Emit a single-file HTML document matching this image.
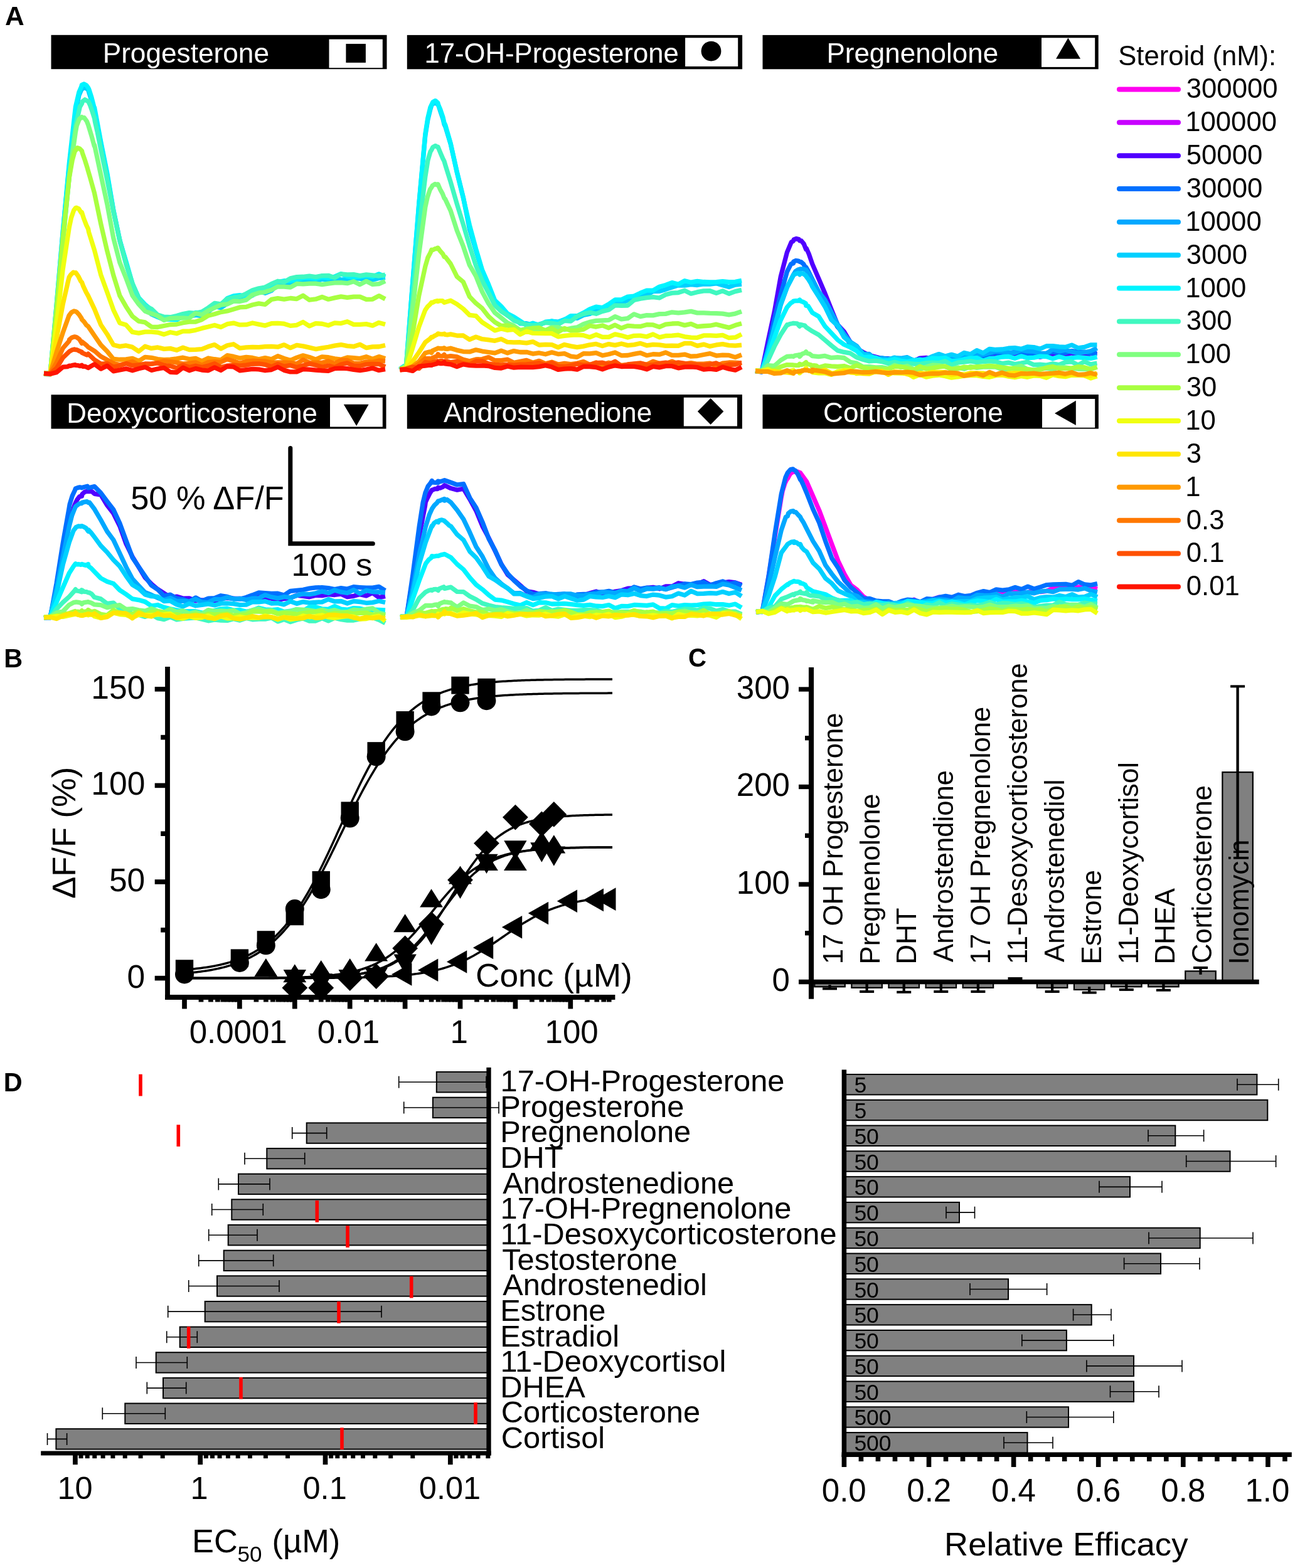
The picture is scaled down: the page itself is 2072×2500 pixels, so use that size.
<!DOCTYPE html><html><head><meta charset="utf-8"><style>html,body{margin:0;padding:0;background:#fff;}svg{display:block;}text{font-family:"Liberation Sans", Arial, sans-serif;}</style></head><body>
<svg width="2072" height="2500" viewBox="0 0 2072 2500">
<rect width="2072" height="2500" fill="#fff"/>
<polyline points="70,596.27 80.07,596.74 90.15,486.16 100.22,369.29 110.3,265.08 120.37,179.18 125.94,151.76 129.94,142.54 130.44,142.4 133.94,139.01 137.94,141.21 140.52,143.03 141.94,147.81 145.94,160.17 149.94,175.52 150.59,181.38 153.94,194.01 160.67,227.98 170.74,278.94 180.81,335.71 190.89,382.69 200.96,419.7 211.04,452.87 221.11,475.54 231.19,488.18 241.26,501.01 251.33,505.4 261.41,509.41 271.48,509.12 281.56,507.7 291.63,505 301.7,504.35 311.78,502.35 321.85,503.54 331.93,497.22 342,488.48 352.07,490.57 362.15,483.98 372.22,479.82 382.3,479.13 392.37,475.83 402.44,471.07 412.52,464.33 422.59,467.36 432.67,463.41 442.74,453.36 452.81,455.28 462.89,453.71 472.96,449.83 483.04,446.27 493.11,446.79 503.19,449.21 513.26,444.92 523.33,447.22 533.41,444.08 543.48,445.94 553.56,445.86 563.63,444.12 573.7,444.2 583.78,446.71 593.85,446.2 603.93,443.45 614,442.5" fill="none" stroke="#00d0ff" stroke-width="7.3" stroke-linejoin="round" stroke-linecap="butt"/>
<polyline points="70,594.98 80.07,596.01 90.15,486.89 100.22,370.01 110.3,260.26 120.37,170.67 125.94,146.95 129.94,137.6 130.44,135.37 133.94,134.01 137.94,136.21 140.52,139.92 141.94,142.85 145.94,155.31 149.94,170.79 150.59,171.6 153.94,189.42 160.67,225.6 170.74,275.51 180.81,335.08 190.89,383.42 200.96,417.16 211.04,452.12 221.11,474.84 231.19,485.48 241.26,493.71 251.33,505.35 261.41,506.28 271.48,509.29 281.56,509.97 291.63,504.33 301.7,505.89 311.78,498.33 321.85,498.86 331.93,492.18 342,489.18 352.07,486.5 362.15,475.64 372.22,471.93 382.3,470.56 392.37,472.47 402.44,464.25 412.52,461.15 422.59,458.36 432.67,455.67 442.74,449.63 452.81,447.73 462.89,447.76 472.96,445.38 483.04,443.32 493.11,442.76 503.19,444.1 513.26,441.98 523.33,443.18 533.41,440.98 543.48,436.62 553.56,440.63 563.63,442.14 573.7,441.22 583.78,439.6 593.85,441.14 603.93,436.8 614,441.15" fill="none" stroke="#00f4ff" stroke-width="7.3" stroke-linejoin="round" stroke-linecap="butt"/>
<polyline points="70,594.97 80.07,595.22 90.15,495.51 100.22,384.71 110.3,281.95 120.37,201.31 127.34,170.48 130.44,165.24 131.34,161.9 135.34,158.83 139.34,161.03 140.52,161.15 143.34,167.16 147.34,178.62 150.59,188.85 151.34,193.71 155.34,211.29 160.67,238.14 170.74,286.14 180.81,337.34 190.89,384.17 200.96,421.62 211.04,451.86 221.11,475.58 231.19,487.67 241.26,492.48 251.33,502.06 261.41,505.2 271.48,505.7 281.56,503.45 291.63,500.58 301.7,498.63 311.78,499.34 321.85,497.09 331.93,490.71 342,483.35 352.07,484.75 362.15,476.66 372.22,474.68 382.3,472.73 392.37,468.23 402.44,462.74 412.52,459.73 422.59,458.01 432.67,452.59 442.74,448.27 452.81,449.74 462.89,443.88 472.96,441.64 483.04,441.26 493.11,440.07 503.19,441.56 513.26,439.61 523.33,439.29 533.41,442.94 543.48,436.82 553.56,437.94 563.63,437.57 573.7,439.59 583.78,437.85 593.85,438.99 603.93,440.02 614,438.09" fill="none" stroke="#40f8c0" stroke-width="7.3" stroke-linejoin="round" stroke-linecap="butt"/>
<polyline points="70,595.67 80.07,596.37 90.15,495.56 100.22,385.09 110.3,282.45 120.37,210.77 122.36,200.18 126.36,189.91 130.36,186.58 130.44,187.45 134.36,187.76 138.36,193.36 140.52,198.93 142.36,204.83 146.36,218.24 150.36,233.13 150.59,231.19 160.67,278.54 170.74,325.16 180.81,379.51 190.89,418.58 200.96,443.76 211.04,471.01 221.11,485.02 231.19,496.06 241.26,500.02 251.33,503.65 261.41,510.53 271.48,507.56 281.56,507.13 291.63,507.12 301.7,506.99 311.78,499.42 321.85,501.96 331.93,495.36 342,490.77 352.07,486.15 362.15,484.99 372.22,480.15 382.3,480.57 392.37,478.17 402.44,470.18 412.52,466.93 422.59,465.52 432.67,462.06 442.74,456.82 452.81,457.07 462.89,458 472.96,452.47 483.04,452.95 493.11,452.04 503.19,452.03 513.26,453.67 523.33,452.11 533.41,450.85 543.48,450.53 553.56,451.69 563.63,448.69 573.7,453.64 583.78,448.33 593.85,453.36 603.93,452.6 614,448.27" fill="none" stroke="#80ff80" stroke-width="7.3" stroke-linejoin="round" stroke-linecap="butt"/>
<polyline points="70,595.98 80.07,596.51 90.15,492.17 100.22,379.04 110.3,283.35 115.26,255.38 119.26,240.77 120.37,239.95 123.26,235.62 127.26,237.22 130.44,240.45 131.26,243.69 135.26,255.11 139.26,267.9 140.52,272.39 143.26,281.69 150.59,308.13 160.67,356.46 170.74,399.95 180.81,438.84 190.89,471.4 200.96,488.92 211.04,504.25 221.11,512.2 231.19,513.91 241.26,521.04 251.33,521.51 261.41,519.52 271.48,517.48 281.56,517.06 291.63,514.77 301.7,513.11 311.78,513 321.85,509.44 331.93,503.24 342,500.82 352.07,497.62 362.15,495.9 372.22,492.93 382.3,489.9 392.37,489.38 402.44,486 412.52,483.83 422.59,485.49 432.67,477.41 442.74,475.67 452.81,477.02 462.89,475.5 472.96,476.52 483.04,471.27 493.11,478.23 503.19,476.99 513.26,473.45 523.33,477.21 533.41,474.83 543.48,472.82 553.56,474.37 563.63,473.18 573.7,473.05 583.78,477.38 593.85,477.05 603.93,471.61 614,476.83" fill="none" stroke="#a8ff40" stroke-width="7.3" stroke-linejoin="round" stroke-linecap="butt"/>
<polyline points="70,595.13 80.07,595.3 90.15,517.9 100.22,429.12 110.3,362.5 113.6,347.06 117.6,335.43 120.37,331.61 121.6,331.13 125.6,332.93 129.6,339.19 130.44,338.7 133.6,348.53 137.6,358.92 140.52,364.89 141.6,370.24 150.59,399.15 160.67,437.91 170.74,465.82 180.81,494.05 190.89,515.01 200.96,518.05 211.04,529.47 221.11,531.16 231.19,529.1 241.26,529.12 251.33,530.02 261.41,533.15 271.48,529.75 281.56,531.79 291.63,528.13 301.7,528.04 311.78,526.29 321.85,523.41 331.93,521.05 342,518.42 352.07,521.57 362.15,516.69 372.22,515.04 382.3,517.9 392.37,517.72 402.44,515.02 412.52,517.09 422.59,519.07 432.67,515.68 442.74,515.38 452.81,516.16 462.89,519.36 472.96,518.27 483.04,513.46 493.11,519.83 503.19,515.55 513.26,516.26 523.33,518.77 533.41,514.87 543.48,515.58 553.56,512.7 563.63,517.36 573.7,517.38 583.78,516.63 593.85,519.11 603.93,514.42 614,517.34" fill="none" stroke="#f0ff10" stroke-width="7.3" stroke-linejoin="round" stroke-linecap="butt"/>
<polyline points="70,594.96 80.07,596.77 90.15,539.63 100.22,485.03 108.92,446.93 110.3,441.76 112.92,437.93 116.92,434.2 120.37,435.38 120.92,434.98 124.92,440.55 128.92,448.62 130.44,449.95 132.92,456.67 136.92,465.15 140.52,471.63 150.59,492.89 160.67,517.72 170.74,532.71 180.81,549.98 190.89,552.42 200.96,550.92 211.04,553.4 221.11,560.26 231.19,552.26 241.26,555.45 251.33,553.97 261.41,556.33 271.48,555.61 281.56,558.3 291.63,554.14 301.7,557.61 311.78,557.38 321.85,556.54 331.93,552.58 342,549.56 352.07,556.04 362.15,550.75 372.22,548.72 382.3,555.06 392.37,553.94 402.44,553.41 412.52,553.61 422.59,552.6 432.67,552.35 442.74,553.2 452.81,549.82 462.89,554.7 472.96,550.48 483.04,551.88 493.11,554.16 503.19,556.54 513.26,554.81 523.33,553.25 533.41,551.14 543.48,549.54 553.56,551.64 563.63,552.41 573.7,549.22 583.78,554.61 593.85,552.9 603.93,552.74 614,550.49" fill="none" stroke="#ffe600" stroke-width="7.3" stroke-linejoin="round" stroke-linecap="butt"/>
<polyline points="70,595.38 80.07,595.71 90.15,561.47 100.22,530.3 109.95,503.32 110.3,502.73 113.95,497.98 117.95,495.97 120.37,496.53 121.95,497.25 125.95,501.54 129.95,507.52 130.44,509.37 133.95,512.82 137.95,518.6 140.52,520.37 150.59,535.24 160.67,549.93 170.74,560.08 180.81,572.47 190.89,573.27 200.96,572.96 211.04,571.44 221.11,575.71 231.19,569.28 241.26,570.26 251.33,572.61 261.41,573.71 271.48,573.24 281.56,571.95 291.63,570.19 301.7,572.57 311.78,571.43 321.85,575.84 331.93,571.01 342,572.74 352.07,574.02 362.15,566.66 372.22,568.46 382.3,571.07 392.37,569.44 402.44,570.49 412.52,572.71 422.59,570.55 432.67,572.79 442.74,567.66 452.81,571.48 462.89,574.49 472.96,570.12 483.04,566.78 493.11,569.45 503.19,573.08 513.26,568.86 523.33,569.74 533.41,571.94 543.48,573.17 553.56,569.98 563.63,570.74 573.7,571.62 583.78,568.75 593.85,572.34 603.93,568.57 614,571.82" fill="none" stroke="#ff9a00" stroke-width="7.3" stroke-linejoin="round" stroke-linecap="butt"/>
<polyline points="70,595.58 80.07,595.81 90.15,578.22 100.22,555.08 110.3,543.61 110.49,541.52 114.49,538.23 118.49,536.89 120.37,537.08 122.49,537.96 126.49,540.92 130.44,547.43 130.49,544.75 134.49,547.79 138.49,551.09 140.52,553.38 150.59,559.56 160.67,568.2 170.74,573.71 180.81,579.32 190.89,581.74 200.96,579.25 211.04,576.4 221.11,582.04 231.19,580.63 241.26,580.33 251.33,578.2 261.41,575.55 271.48,576.66 281.56,578.15 291.63,580.16 301.7,579.05 311.78,577.86 321.85,582.29 331.93,577.63 342,576.64 352.07,577.3 362.15,572.66 372.22,575.64 382.3,579.14 392.37,576.2 402.44,575.26 412.52,575.74 422.59,576.09 432.67,578.19 442.74,577.84 452.81,577.96 462.89,578.32 472.96,580.03 483.04,573.63 493.11,578.35 503.19,578.09 513.26,578.36 523.33,575.91 533.41,579.61 543.48,574.22 553.56,574.46 563.63,579.2 573.7,579.48 583.78,576.79 593.85,577.34 603.93,575.01 614,575.81" fill="none" stroke="#ff7800" stroke-width="7.3" stroke-linejoin="round" stroke-linecap="butt"/>
<polyline points="70,595.36 80.07,596.04 90.15,587.03 100.22,570.38 110.3,560.66 110.49,560.46 114.49,558.04 118.49,556.89 120.37,557.62 122.49,557.6 126.49,559.73 130.44,561.16 130.49,562.36 134.49,564.07 138.49,565.94 140.52,564.12 150.59,573.7 160.67,580.04 170.74,579.55 180.81,585.19 190.89,583.01 200.96,579.59 211.04,582.91 221.11,581.91 231.19,580.02 241.26,580.13 251.33,578.92 261.41,582.34 271.48,583.59 281.56,586.78 291.63,582.05 301.7,585.56 311.78,583.21 321.85,585.48 331.93,583.14 342,579.73 352.07,585.43 362.15,583.06 372.22,582.03 382.3,583.22 392.37,582.09 402.44,580.25 412.52,579.99 422.59,581.29 432.67,584.81 442.74,580.34 452.81,584.09 462.89,582.43 472.96,585.65 483.04,582.82 493.11,579.95 503.19,582.1 513.26,585.21 523.33,583.05 533.41,585.84 543.48,581.03 553.56,578.9 563.63,583.13 573.7,583.46 583.78,580.81 593.85,580.38 603.93,580.53 614,584.95" fill="none" stroke="#ff5000" stroke-width="7.3" stroke-linejoin="round" stroke-linecap="butt"/>
<polyline points="70,595.4 80.07,596.22 90.15,593.65 100.22,585.21 107.83,584.57 110.3,583.21 111.83,583.45 115.83,582.4 119.83,581.68 120.37,582.34 123.83,582.58 127.83,583.71 130.44,582.2 131.83,584.28 135.83,584.18 140.52,586.5 150.59,580.63 160.67,588.16 170.74,583.12 180.81,591.84 190.89,590.03 200.96,587.83 211.04,590.75 221.11,587.69 231.19,585.34 241.26,590.34 251.33,588.03 261.41,586.4 271.48,593.24 281.56,593.83 291.63,586.1 301.7,590.8 311.78,587.62 321.85,590.04 331.93,590.84 342,585.81 352.07,590.45 362.15,584.25 372.22,584.92 382.3,590.81 392.37,589.57 402.44,588.38 412.52,588.83 422.59,590.73 432.67,589.52 442.74,585.12 452.81,590.37 462.89,592.92 472.96,592.76 483.04,588.72 493.11,589.09 503.19,590.02 513.26,590.89 523.33,591.27 533.41,587.64 543.48,587.05 553.56,587.64 563.63,589.42 573.7,590.65 583.78,589.19 593.85,587.03 603.93,590.47 614,588.75" fill="none" stroke="#ff1400" stroke-width="7.3" stroke-linejoin="round" stroke-linecap="butt"/>
<polyline points="637.5,588.69 647.58,581.15 657.67,452.27 667.75,326.45 677.83,215.93 681.91,190.58 685.91,174.07 687.92,167.47 689.91,165.68 693.91,163.6 697.91,166.99 698,165.5 701.91,177.66 705.91,189.41 708.08,198.28 709.91,202.31 718.17,229.46 728.25,273.73 738.33,314.54 748.42,364.86 758.5,399.02 768.58,432.14 778.67,458.06 788.75,479.93 798.83,493.56 808.92,503.01 819,506.33 829.08,515.83 839.17,515.69 849.25,518 859.33,517.06 869.42,514.24 879.5,512.02 889.58,513.1 899.67,509.38 909.75,505.76 919.83,507.44 929.92,502.39 940,500.45 950.08,495.69 960.17,491.97 970.25,489.98 980.33,481.27 990.42,483.15 1000.5,478.59 1010.58,472.74 1020.67,469.91 1030.75,470.27 1040.83,464.51 1050.92,464.45 1061,461.42 1071.08,457.96 1081.17,454.81 1091.25,455.18 1101.33,453.69 1111.42,454.49 1121.5,452.93 1131.58,453.11 1141.67,451.85 1151.75,454.83 1161.83,457.56 1171.92,454 1182,453.01" fill="none" stroke="#00d0ff" stroke-width="7.3" stroke-linejoin="round" stroke-linecap="butt"/>
<polyline points="637.5,588.42 647.58,581.13 657.67,451.07 667.75,325.08 677.83,213.8 681.91,187.74 685.91,171.12 687.92,167.09 689.91,162.68 693.91,160.6 697.91,164.04 698,165.93 701.91,174.8 705.91,186.65 708.08,195.96 709.91,199.65 718.17,228.52 728.25,274.83 738.33,315.74 748.42,359.18 758.5,396.44 768.58,430.53 778.67,453.55 788.75,478.99 798.83,488.34 808.92,500.1 819,505.17 829.08,511.88 839.17,518.58 849.25,515.14 859.33,518.68 869.42,513.16 879.5,512.12 889.58,514.17 899.67,509.8 909.75,503.66 919.83,503.75 929.92,498.85 940,492.82 950.08,489.06 960.17,490.61 970.25,485.05 980.33,477.87 990.42,477.84 1000.5,473.07 1010.58,472.11 1020.67,467.16 1030.75,463.05 1040.83,463.07 1050.92,457.28 1061,454.42 1071.08,450.63 1081.17,453.29 1091.25,447.71 1101.33,450.22 1111.42,448.45 1121.5,449.52 1131.58,450.01 1141.67,449.62 1151.75,448.65 1161.83,449.75 1171.92,449.28 1182,447.27" fill="none" stroke="#00f4ff" stroke-width="7.3" stroke-linejoin="round" stroke-linecap="butt"/>
<polyline points="637.5,589.96 647.58,581.22 657.67,475.75 667.75,366.25 677.83,281.6 681.91,255.84 685.91,241.92 687.92,238.78 689.91,234.63 693.91,232.49 697.91,234.91 698,234.13 701.91,243.54 705.91,253.04 708.08,257.16 709.91,263.49 718.17,290.02 728.25,324.98 738.33,357.75 748.42,392.08 758.5,423.41 768.58,447.82 778.67,466.98 788.75,486.94 798.83,496.42 808.92,502.84 819,510.97 829.08,514.77 839.17,517.44 849.25,519.17 859.33,517.65 869.42,514.31 879.5,515.42 889.58,517.16 899.67,511.43 909.75,512.08 919.83,504.4 929.92,500.64 940,498.22 950.08,500.3 960.17,496.42 970.25,493.95 980.33,486.85 990.42,487.26 1000.5,486.98 1010.58,478.53 1020.67,476.16 1030.75,474.7 1040.83,473.58 1050.92,475 1061,469.83 1071.08,467.13 1081.17,466.57 1091.25,463.21 1101.33,468.19 1111.42,465.71 1121.5,463.94 1131.58,463.77 1141.67,467.36 1151.75,463.83 1161.83,468.27 1171.92,464.67 1182,462.35" fill="none" stroke="#40f8c0" stroke-width="7.3" stroke-linejoin="round" stroke-linecap="butt"/>
<polyline points="637.5,588.88 647.58,583.13 657.67,493.26 667.75,405.01 677.83,330.22 681.42,314.07 685.42,302.15 687.92,298.62 689.42,295.81 693.42,293.5 697.42,294.95 698,293.71 701.42,301.64 705.42,309.02 708.08,316.06 709.42,317.13 718.17,335.86 728.25,367.41 738.33,392.72 748.42,422.75 758.5,440.24 768.58,465.28 778.67,484.04 788.75,498.65 798.83,506.66 808.92,514.91 819,519.4 829.08,526.44 839.17,523.98 849.25,524.27 859.33,526.27 869.42,526.77 879.5,521.83 889.58,521.97 899.67,525.6 909.75,523.47 919.83,521.95 929.92,516.78 940,513.41 950.08,511.44 960.17,511.01 970.25,510.43 980.33,504.7 990.42,508.85 1000.5,507.61 1010.58,500.83 1020.67,504.6 1030.75,502.71 1040.83,502.9 1050.92,500.68 1061,500.39 1071.08,497.81 1081.17,498.81 1091.25,497.9 1101.33,496.38 1111.42,498.91 1121.5,498.82 1131.58,499.34 1141.67,499.62 1151.75,500.16 1161.83,501.8 1171.92,500.06 1182,496.61" fill="none" stroke="#80ff80" stroke-width="7.3" stroke-linejoin="round" stroke-linecap="butt"/>
<polyline points="637.5,589.17 647.58,585.67 657.67,531.97 667.75,471.2 677.83,424.68 681.91,410.73 685.91,403.07 687.92,398.26 689.91,398.49 693.91,396.35 697.91,396.63 698,395.23 701.91,400.58 705.91,404.93 708.08,409.55 709.91,409.75 718.17,420.51 728.25,440.97 738.33,449.46 748.42,472.94 758.5,483.43 768.58,491.64 778.67,504.45 788.75,513.63 798.83,519.47 808.92,518.79 819,522.58 829.08,527.2 839.17,525.34 849.25,523.1 859.33,522.66 869.42,526.97 879.5,523.86 889.58,529.47 899.67,523.34 909.75,527.11 919.83,526.94 929.92,525.14 940,519.25 950.08,521.05 960.17,518.96 970.25,522.79 980.33,518.16 990.42,523.22 1000.5,519.32 1010.58,520.2 1020.67,520.45 1030.75,517.7 1040.83,517.95 1050.92,521.42 1061,517.15 1071.08,516.01 1081.17,515.72 1091.25,518.63 1101.33,516.4 1111.42,520.67 1121.5,519.76 1131.58,519.22 1141.67,517.18 1151.75,519.87 1161.83,522.34 1171.92,518.57 1182,515.69" fill="none" stroke="#a8ff40" stroke-width="7.3" stroke-linejoin="round" stroke-linecap="butt"/>
<polyline points="637.5,588.55 647.58,586.9 657.67,554.97 667.75,521.01 677.25,495.52 677.83,494.33 681.25,489.22 685.25,485.34 687.92,482.19 689.25,482.57 693.25,480.51 697.25,479.57 698,480.57 701.25,479.53 705.25,479.54 708.08,482.24 718.17,479.14 728.25,484.85 738.33,492.38 748.42,502.41 758.5,503.67 768.58,513.93 778.67,520.42 788.75,526.89 798.83,523.97 808.92,526.49 819,525.43 829.08,533.24 839.17,528.17 849.25,531.17 859.33,531.44 869.42,531.61 879.5,531.7 889.58,536.85 899.67,535.42 909.75,534.33 919.83,533.97 929.92,534.62 940,537.69 950.08,533.53 960.17,537.36 970.25,537.35 980.33,532.9 990.42,535.11 1000.5,538 1010.58,535.3 1020.67,535.08 1030.75,536.77 1040.83,533.02 1050.92,537.83 1061,535.51 1071.08,535.06 1081.17,534.16 1091.25,536.78 1101.33,538.19 1111.42,538.32 1121.5,534.96 1131.58,534.79 1141.67,535.32 1151.75,534.4 1161.83,538.73 1171.92,537.92 1182,532.92" fill="none" stroke="#f0ff10" stroke-width="7.3" stroke-linejoin="round" stroke-linecap="butt"/>
<polyline points="637.5,589.45 647.58,588.22 657.67,576.33 667.75,561.77 677.83,545.77 685.06,540.35 687.92,537.38 689.06,537.77 693.06,535.18 697.06,533.22 698,531.91 701.06,532.58 705.06,532.93 708.08,532.19 709.06,533.36 713.06,533.9 718.17,532.94 728.25,535.04 738.33,534.98 748.42,541.28 758.5,537.17 768.58,540.68 778.67,541.91 788.75,543.29 798.83,540.46 808.92,545.41 819,545.97 829.08,545.77 839.17,546.89 849.25,544.81 859.33,550 869.42,549.41 879.5,549.66 889.58,553.94 899.67,549.44 909.75,551.86 919.83,553.53 929.92,552.17 940,549.77 950.08,548.41 960.17,551.63 970.25,548.56 980.33,550.34 990.42,547.96 1000.5,550.61 1010.58,549.56 1020.67,547.36 1030.75,550.77 1040.83,549.41 1050.92,549.82 1061,551.36 1071.08,551.05 1081.17,551.46 1091.25,547.38 1101.33,547.4 1111.42,551.31 1121.5,549.11 1131.58,552.13 1141.67,549.99 1151.75,548.69 1161.83,550.54 1171.92,551.08 1182,550.11" fill="none" stroke="#ffe600" stroke-width="7.3" stroke-linejoin="round" stroke-linecap="butt"/>
<polyline points="637.5,589.86 647.58,588.39 657.67,584.15 667.75,576.41 677.83,562.68 685.06,560.91 687.92,562.41 689.06,559.36 693.06,557.48 697.06,555.96 698,555.23 701.06,555.55 705.06,555.76 708.08,554.86 709.06,556.04 713.06,556.41 718.17,555.26 728.25,558.33 738.33,560.55 748.42,560.9 758.5,557.81 768.58,560.03 778.67,561.49 788.75,562.91 798.83,559.1 808.92,562.83 819,559.59 829.08,561.52 839.17,561.28 849.25,564.01 859.33,562.72 869.42,564.74 879.5,561.79 889.58,564.58 899.67,563.62 909.75,568.08 919.83,569.43 929.92,563.71 940,563.85 950.08,562.65 960.17,566.74 970.25,564.74 980.33,561.93 990.42,566.8 1000.5,566.49 1010.58,564.36 1020.67,562.56 1030.75,566.72 1040.83,564.74 1050.92,565.2 1061,561.97 1071.08,566.43 1081.17,566.3 1091.25,565.05 1101.33,568.22 1111.42,567.53 1121.5,565.5 1131.58,563.6 1141.67,567.05 1151.75,566.04 1161.83,566.46 1171.92,569.61 1182,565.73" fill="none" stroke="#ff9a00" stroke-width="7.3" stroke-linejoin="round" stroke-linecap="butt"/>
<polyline points="637.5,588.52 647.58,588.57 657.67,586.63 667.75,580.2 677.83,571.59 685.06,571.57 687.92,572.9 689.06,570.57 693.06,569.07 697.06,567.79 698,564.66 701.06,567.56 705.06,567.79 708.08,565.42 709.06,568.1 713.06,568.5 718.17,567.54 728.25,568.9 738.33,573.39 748.42,575.72 758.5,573 768.58,572.56 778.67,569.57 788.75,574.75 798.83,574.53 808.92,573.13 819,578.25 829.08,576.43 839.17,574.44 849.25,578.23 859.33,575.34 869.42,579.83 879.5,577.27 889.58,581 899.67,579.41 909.75,580.68 919.83,579.36 929.92,576.61 940,581.62 950.08,577.98 960.17,581.55 970.25,578.18 980.33,580.92 990.42,582.28 1000.5,581.42 1010.58,580.26 1020.67,579.12 1030.75,581.27 1040.83,576.14 1050.92,579.46 1061,579.94 1071.08,576.06 1081.17,580.66 1091.25,580.23 1101.33,578.71 1111.42,580.24 1121.5,580.13 1131.58,579.22 1141.67,583.38 1151.75,579.24 1161.83,578 1171.92,578.22 1182,579.01" fill="none" stroke="#ff7800" stroke-width="7.3" stroke-linejoin="round" stroke-linecap="butt"/>
<polyline points="637.5,589.95 647.58,587.7 657.67,585.15 667.75,587.55 677.83,577.51 685.06,578.68 687.92,579.35 689.06,578.05 693.06,576.8 697.06,575.69 698,578.32 701.06,575.54 705.06,575.68 708.08,578.41 709.06,575.88 713.06,576.18 718.17,577.93 728.25,576.19 738.33,579.63 748.42,581.43 758.5,575.87 768.58,575.89 778.67,579.97 788.75,581.39 798.83,581.9 808.92,581.41 819,582.25 829.08,581.18 839.17,580.89 849.25,579.83 859.33,578.64 869.42,582.19 879.5,578.33 889.58,584.03 899.67,584.52 909.75,582.94 919.83,580.21 929.92,582.37 940,581.43 950.08,578.68 960.17,578.17 970.25,581.12 980.33,576.3 990.42,583.47 1000.5,580.92 1010.58,579.78 1020.67,579.1 1030.75,581.86 1040.83,581.91 1050.92,579.45 1061,578.22 1071.08,579.35 1081.17,577.9 1091.25,579.48 1101.33,580.51 1111.42,581.65 1121.5,582.47 1131.58,581.07 1141.67,578.94 1151.75,583.9 1161.83,580.98 1171.92,581.25 1182,578.11" fill="none" stroke="#ff5000" stroke-width="7.3" stroke-linejoin="round" stroke-linecap="butt"/>
<polyline points="637.5,589.89 647.58,589.21 657.67,591.45 667.75,584.18 677.83,583.02 685.06,582.23 687.92,582.32 689.06,581.79 693.06,580.66 697.06,579.64 698,577.85 701.06,579.54 705.06,579.71 708.08,577.39 709.06,579.95 713.06,580.27 718.17,580.9 728.25,584.52 738.33,580.8 748.42,582.64 758.5,583.2 768.58,582.89 778.67,583.53 788.75,586.45 798.83,587.03 808.92,583.99 819,586.2 829.08,585.26 839.17,585.51 849.25,585.6 859.33,584.54 869.42,582.62 879.5,585.04 889.58,589.46 899.67,588.21 909.75,587.65 919.83,589.18 929.92,584.5 940,584.5 950.08,585.52 960.17,588.77 970.25,585.1 980.33,582.79 990.42,584.51 1000.5,584.12 1010.58,584.33 1020.67,586.08 1030.75,588.81 1040.83,584.39 1050.92,585.82 1061,583.71 1071.08,583.68 1081.17,586.79 1091.25,585.2 1101.33,584.8 1111.42,585.69 1121.5,589.13 1131.58,588.14 1141.67,589.38 1151.75,585.35 1161.83,588.11 1171.92,590.17 1182,585.25" fill="none" stroke="#ff1400" stroke-width="7.3" stroke-linejoin="round" stroke-linecap="butt"/>
<polyline points="1204,591.83 1214.08,592.79 1224.17,543.53 1234.25,497.07 1244.33,440.96 1254.42,402.33 1261.24,386.13 1264.5,384.07 1265.24,381.92 1269.24,380.47 1273.24,381.61 1274.58,383.93 1277.24,384.02 1281.24,388.93 1284.67,397.55 1285.24,395.86 1289.24,404.88 1294.75,420.89 1304.83,444.23 1314.92,467.74 1325,493.11 1335.08,517.78 1345.17,528.49 1355.25,545.29 1365.33,555.64 1375.42,561.42 1385.5,566.56 1395.58,569.12 1405.67,571.78 1415.75,571.76 1425.83,574.53 1435.92,575.82 1446,570.99 1456.08,576.23 1466.17,571.03 1476.25,570.46 1486.33,571.51 1496.42,571.5 1506.5,572.51 1516.58,574.15 1526.67,572.45 1536.75,568.8 1546.83,569.87 1556.92,571.07 1567,566.27 1577.08,565.54 1587.17,563.79 1597.25,564.69 1607.33,566.09 1617.42,566.37 1627.5,568.05 1637.58,562.72 1647.67,565.87 1657.75,569.21 1667.83,567.07 1677.92,564.62 1688,563.29 1698.08,566.05 1708.17,562.68 1718.25,566.05 1728.33,566.39 1738.42,563.63 1748.5,564.52" fill="none" stroke="#5000ff" stroke-width="7.3" stroke-linejoin="round" stroke-linecap="butt"/>
<polyline points="1204,591.23 1214.08,592.94 1224.17,554.75 1234.25,508.39 1244.33,469.33 1254.42,433.24 1260.69,420.77 1264.5,419.93 1264.69,417.07 1268.69,415.51 1272.69,416.07 1274.58,417.33 1276.69,417.63 1280.69,421.1 1284.67,427.94 1284.69,425.98 1288.69,433.09 1294.75,445.32 1304.83,465.6 1314.92,481.41 1325,503.76 1335.08,521.42 1345.17,532.58 1355.25,549.02 1365.33,556.08 1375.42,562.43 1385.5,569.4 1395.58,571.13 1405.67,571.06 1415.75,571.91 1425.83,573.29 1435.92,571.99 1446,573.68 1456.08,575.05 1466.17,572.35 1476.25,575.96 1486.33,568.44 1496.42,568.25 1506.5,572.83 1516.58,569.68 1526.67,569.81 1536.75,570.34 1546.83,567.62 1556.92,567.91 1567,567.99 1577.08,564.55 1587.17,562.13 1597.25,567.5 1607.33,563.53 1617.42,561.13 1627.5,563.04 1637.58,565.08 1647.67,564.8 1657.75,564.07 1667.83,563.4 1677.92,560.76 1688,563.55 1698.08,562.37 1708.17,559.5 1718.25,560.97 1728.33,561.06 1738.42,563.39 1748.5,563.04" fill="none" stroke="#0070ff" stroke-width="7.3" stroke-linejoin="round" stroke-linecap="butt"/>
<polyline points="1204,591.9 1214.08,591.64 1224.17,557.71 1234.25,525.48 1244.33,485.92 1254.42,457.92 1264.5,438.16 1267.87,432.65 1271.87,430.01 1274.58,429.22 1275.87,428.86 1279.87,428.82 1283.87,430.12 1284.67,430.33 1287.87,434.98 1291.87,441.28 1294.75,448.78 1295.87,447.65 1304.83,464.92 1314.92,478.18 1325,497.7 1335.08,517.21 1345.17,532.41 1355.25,545.1 1365.33,551.47 1375.42,564.61 1385.5,564.51 1395.58,573.36 1405.67,570.88 1415.75,573.55 1425.83,570.68 1435.92,571.25 1446,569.73 1456.08,574.88 1466.17,574.19 1476.25,574.73 1486.33,572.31 1496.42,568.64 1506.5,571.76 1516.58,568.17 1526.67,571.03 1536.75,566.83 1546.83,568.85 1556.92,565.32 1567,565.47 1577.08,562.57 1587.17,559.82 1597.25,560.62 1607.33,562.57 1617.42,562.5 1627.5,558.14 1637.58,559.84 1647.67,560.38 1657.75,563.1 1667.83,563.51 1677.92,557 1688,560.1 1698.08,557.89 1708.17,560.81 1718.25,562.84 1728.33,561.74 1738.42,559.77 1748.5,554.99" fill="none" stroke="#00a8ff" stroke-width="7.3" stroke-linejoin="round" stroke-linecap="butt"/>
<polyline points="1204,591.72 1214.08,592.54 1224.17,561.67 1234.25,521.94 1244.33,484.63 1254.42,457.92 1264.26,439.63 1264.5,438.61 1268.26,436.48 1272.26,435.39 1274.58,437.87 1276.26,435.44 1280.26,436.42 1284.26,439.23 1284.67,440.26 1288.26,445.13 1292.26,451.43 1294.75,457.05 1304.83,472.75 1314.92,488.99 1325,509.9 1335.08,519.34 1345.17,537.5 1355.25,546.3 1365.33,552.92 1375.42,564.72 1385.5,567.26 1395.58,572.02 1405.67,573.58 1415.75,573.32 1425.83,570.1 1435.92,572.61 1446,570.48 1456.08,574.46 1466.17,574.79 1476.25,572.56 1486.33,568.14 1496.42,564.56 1506.5,568.04 1516.58,565.35 1526.67,568.19 1536.75,562.5 1546.83,564.84 1556.92,558.6 1567,562.77 1577.08,556.44 1587.17,557.52 1597.25,557.01 1607.33,555.24 1617.42,554.7 1627.5,556.42 1637.58,552.99 1647.67,553.64 1657.75,556.29 1667.83,551.73 1677.92,551.62 1688,552.94 1698.08,553.37 1708.17,550.13 1718.25,554.78 1728.33,553.43 1738.42,549.83 1748.5,549.78" fill="none" stroke="#00d0ff" stroke-width="7.3" stroke-linejoin="round" stroke-linecap="butt"/>
<polyline points="1204,590.75 1214.08,591.51 1224.17,566.9 1234.25,538.22 1244.33,510.29 1254.42,489.8 1260.18,483.3 1264.18,480.91 1264.5,480.09 1268.18,479.59 1272.18,479.6 1274.58,478.1 1276.18,480.09 1280.18,481.54 1284.18,483.69 1284.67,487.12 1288.18,488.11 1294.75,498.7 1304.83,504.49 1314.92,520.25 1325,530.93 1335.08,541.84 1345.17,549.23 1355.25,553.76 1365.33,559.52 1375.42,569.68 1385.5,569.07 1395.58,570.06 1405.67,575.3 1415.75,575.33 1425.83,572.66 1435.92,575.36 1446,576.59 1456.08,574.67 1466.17,573.61 1476.25,574.76 1486.33,571.04 1496.42,571.57 1506.5,570.59 1516.58,575.72 1526.67,575.22 1536.75,572.67 1546.83,571.06 1556.92,570.6 1567,575.12 1577.08,571.67 1587.17,570.8 1597.25,568.99 1607.33,568.48 1617.42,571.32 1627.5,567.84 1637.58,570.66 1647.67,570.07 1657.75,568.2 1667.83,568.54 1677.92,571.86 1688,568.77 1698.08,571.31 1708.17,570.68 1718.25,569.58 1728.33,570.49 1738.42,571.44 1748.5,569.11" fill="none" stroke="#00f4ff" stroke-width="7.3" stroke-linejoin="round" stroke-linecap="butt"/>
<polyline points="1204,591.54 1214.08,591.9 1224.17,574.48 1234.25,552.39 1244.33,533.55 1254.42,517.96 1254.78,518.63 1258.78,516.5 1262.78,515.71 1264.5,515.31 1266.78,515.56 1270.78,515.99 1274.58,520.33 1274.78,517.37 1278.78,518.18 1282.78,519.16 1284.67,521.41 1294.75,528.18 1304.83,533.75 1314.92,542.27 1325,550.88 1335.08,558.89 1345.17,561.47 1355.25,563.2 1365.33,569.76 1375.42,573.28 1385.5,575.98 1395.58,575.14 1405.67,576.58 1415.75,579.49 1425.83,577.39 1435.92,580 1446,579.05 1456.08,580.09 1466.17,580.53 1476.25,578.68 1486.33,578.06 1496.42,578.63 1506.5,575.89 1516.58,581.97 1526.67,578.11 1536.75,577.1 1546.83,575.84 1556.92,577.56 1567,576.58 1577.08,575.86 1587.17,576.68 1597.25,579.51 1607.33,578.15 1617.42,580.49 1627.5,579.04 1637.58,577.04 1647.67,581.55 1657.75,581.09 1667.83,582.12 1677.92,579.79 1688,581.63 1698.08,577.5 1708.17,576.78 1718.25,582.02 1728.33,576.63 1738.42,580.82 1748.5,579.21" fill="none" stroke="#40f8c0" stroke-width="7.3" stroke-linejoin="round" stroke-linecap="butt"/>
<polyline points="1204,591.52 1214.08,591.8 1224.17,582.74 1234.25,583.36 1244.33,574.35 1254.42,568.46 1262.4,568.01 1264.5,568.5 1266.4,567.18 1270.4,566.37 1274.4,565.68 1274.58,568.56 1278.4,564.25 1282.4,563.06 1284.67,560.75 1286.4,563.23 1290.4,564.25 1294.75,567.7 1304.83,568.55 1314.92,567.46 1325,570.46 1335.08,569.51 1345.17,570.5 1355.25,577.35 1365.33,579.15 1375.42,584.78 1385.5,584.56 1395.58,585.81 1405.67,585.64 1415.75,587.61 1425.83,582.26 1435.92,585.62 1446,583.45 1456.08,588.59 1466.17,588.97 1476.25,584.9 1486.33,581.98 1496.42,582.64 1506.5,584.48 1516.58,588.36 1526.67,585.84 1536.75,588.33 1546.83,584.4 1556.92,586.39 1567,585.08 1577.08,585.21 1587.17,585.19 1597.25,588.71 1607.33,589.03 1617.42,585.99 1627.5,583.5 1637.58,588.74 1647.67,589.97 1657.75,587.74 1667.83,587.23 1677.92,588.97 1688,585.36 1698.08,585.8 1708.17,587.28 1718.25,588.24 1728.33,588.62 1738.42,588.25 1748.5,584.82" fill="none" stroke="#80ff80" stroke-width="7.3" stroke-linejoin="round" stroke-linecap="butt"/>
<polyline points="1204,590.57 1214.08,591.48 1224.17,588.02 1234.25,590.49 1244.33,584.67 1254.42,581.6 1264.5,582.02 1273.09,582.66 1274.58,580.28 1277.09,581.61 1281.09,580.43 1284.67,577.61 1285.09,579.9 1289.09,580.96 1293.09,582.08 1294.75,585.4 1297.09,582.65 1301.09,583.04 1304.83,585.95 1314.92,582.97 1325,583.97 1335.08,584.49 1345.17,583.51 1355.25,586.79 1365.33,582.73 1375.42,586.05 1385.5,587.85 1395.58,587.25 1405.67,589.06 1415.75,588.38 1425.83,584.55 1435.92,584.52 1446,587.13 1456.08,589.97 1466.17,584.23 1476.25,588.05 1486.33,586.89 1496.42,585.22 1506.5,583.98 1516.58,588.56 1526.67,587.77 1536.75,585 1546.83,586.44 1556.92,584.56 1567,584.21 1577.08,583.35 1587.17,584.11 1597.25,585.91 1607.33,587.22 1617.42,587.89 1627.5,588.86 1637.58,588.97 1647.67,590.26 1657.75,589.64 1667.83,586.16 1677.92,584.44 1688,587.58 1698.08,587.54 1708.17,587.16 1718.25,584.75 1728.33,585.66 1738.42,588.81 1748.5,585.36" fill="none" stroke="#a8ff40" stroke-width="7.3" stroke-linejoin="round" stroke-linecap="butt"/>
<polyline points="1204,590.69 1214.08,591.66 1224.17,589.15 1234.25,595.49 1244.33,592.5 1254.42,592.77 1264.5,590.2 1266.52,592.54 1270.52,592.44 1274.52,592.2 1274.58,594.85 1278.52,591.12 1282.52,590.03 1284.67,586.8 1286.52,590.26 1290.52,591.28 1294.52,592.18 1294.75,593.58 1304.83,594.77 1314.92,594.72 1325,597.37 1335.08,592.33 1345.17,590.23 1355.25,590.11 1365.33,595.69 1375.42,593.91 1385.5,594.03 1395.58,593.15 1405.67,593.09 1415.75,593.47 1425.83,594.9 1435.92,595.12 1446,595.28 1456.08,601.38 1466.17,597.26 1476.25,601.14 1486.33,599.09 1496.42,598.02 1506.5,599.69 1516.58,602.17 1526.67,600.83 1536.75,599.2 1546.83,598.57 1556.92,598.71 1567,600.37 1577.08,601.26 1587.17,598.67 1597.25,597.95 1607.33,600.2 1617.42,601.75 1627.5,599.76 1637.58,601.33 1647.67,598.84 1657.75,599.27 1667.83,602.29 1677.92,597.67 1688,599.65 1698.08,600.57 1708.17,598.27 1718.25,598.41 1728.33,598.54 1738.42,602.99 1748.5,599.88" fill="none" stroke="#f0ff10" stroke-width="7.3" stroke-linejoin="round" stroke-linecap="butt"/>
<polyline points="1204,591.58 1214.08,592.41 1224.17,592.23 1234.25,591.76 1244.33,593.43 1254.42,593.79 1264.5,595.05 1266.52,592.54 1270.52,592.44 1274.52,592.2 1274.58,592.21 1278.52,591.12 1282.52,590.03 1284.67,589.47 1286.52,590.26 1290.52,591.28 1294.52,592.18 1294.75,591.05 1304.83,592.64 1314.92,589.86 1325,595.01 1335.08,595.13 1345.17,591.75 1355.25,593.76 1365.33,594.53 1375.42,595.55 1385.5,595.98 1395.58,592.38 1405.67,591.61 1415.75,597.44 1425.83,592.64 1435.92,593.41 1446,596.64 1456.08,597.99 1466.17,594.54 1476.25,595.61 1486.33,593.43 1496.42,593.46 1506.5,593.41 1516.58,597.77 1526.67,596.16 1536.75,597.2 1546.83,594.71 1556.92,594.91 1567,595.16 1577.08,597.57 1587.17,597.59 1597.25,597.89 1607.33,595.08 1617.42,594.77 1627.5,594.81 1637.58,596.01 1647.67,595.64 1657.75,597.55 1667.83,596.54 1677.92,595.54 1688,598.76 1698.08,598.01 1708.17,596.95 1718.25,597.34 1728.33,598.73 1738.42,598.99 1748.5,594.6" fill="none" stroke="#ffe600" stroke-width="7.3" stroke-linejoin="round" stroke-linecap="butt"/>
<polyline points="1204,591.5 1214.08,592.33 1224.17,592.39 1234.25,595.48 1244.33,594.82 1254.42,590.64 1264.5,595.29 1266.52,592.54 1270.52,592.44 1274.52,592.2 1274.58,592.26 1278.52,591.12 1282.52,590.03 1284.67,590.46 1286.52,590.26 1290.52,591.28 1294.52,592.18 1294.75,589.56 1304.83,591.18 1314.92,592.8 1325,596.31 1335.08,595.38 1345.17,594.61 1355.25,591.98 1365.33,592.5 1375.42,593.63 1385.5,593.38 1395.58,592.47 1405.67,593.98 1415.75,594.64 1425.83,593.75 1435.92,593.81 1446,593.08 1456.08,594.21 1466.17,597.88 1476.25,596.31 1486.33,595.57 1496.42,595.76 1506.5,594.1 1516.58,594.34 1526.67,595.04 1536.75,599.28 1546.83,597.34 1556.92,595.68 1567,598.62 1577.08,593.38 1587.17,597.3 1597.25,594.08 1607.33,597.78 1617.42,598.76 1627.5,595.61 1637.58,595.89 1647.67,595.08 1657.75,596.55 1667.83,595.72 1677.92,595.16 1688,594.25 1698.08,596.06 1708.17,593.74 1718.25,597.34 1728.33,596.94 1738.42,594.65 1748.5,597.41" fill="none" stroke="#ff9a00" stroke-width="7.3" stroke-linejoin="round" stroke-linecap="butt"/>
<polyline points="70,984.83 80.07,984.39 90.15,939.93 100.22,889.46 110.3,835.22 118.9,805.24 120.37,801.91 122.9,796.76 126.9,791.54 130.44,791.1 130.9,788.02 134.9,784.36 138.9,783.31 140.52,783.62 142.9,783.43 146.9,783.97 150.59,787.29 160.67,788.92 170.74,805.54 180.81,818.62 190.89,838.83 200.96,867.02 211.04,887.7 221.11,904.22 231.19,920.96 241.26,930.94 251.33,939.46 261.41,945.82 271.48,952.45 281.56,951.11 291.63,954.08 301.7,953.8 311.78,957.88 321.85,956.99 331.93,957.82 342,958.96 352.07,953.56 362.15,953.41 372.22,954.36 382.3,954.4 392.37,954.58 402.44,955.63 412.52,951.69 422.59,952.91 432.67,954.19 442.74,956.31 452.81,954.67 462.89,953.11 472.96,949.02 483.04,950.42 493.11,951.81 503.19,949.19 513.26,949.66 523.33,947.59 533.41,948.49 543.48,947.1 553.56,951.61 563.63,950.26 573.7,947.57 583.78,949.84 593.85,945.23 603.93,952.66 614,950.69" fill="none" stroke="#5000ff" stroke-width="7.3" stroke-linejoin="round" stroke-linecap="butt"/>
<polyline points="70,984.44 80.07,984.8 90.15,929.61 100.22,865.97 110.3,809.02 111.25,803.47 115.25,790.49 119.25,781.99 120.37,778.86 123.25,777.86 127.25,776.78 130.44,777.78 131.25,777.22 135.25,776.22 139.25,775.22 140.52,777.99 150.59,775.63 160.67,785.92 170.74,799.37 180.81,812.43 190.89,834.17 200.96,861.8 211.04,888.85 221.11,903.72 231.19,918.6 241.26,933.25 251.33,939.82 261.41,950.34 271.48,948.19 281.56,954.07 291.63,955.37 301.7,959.16 311.78,952.84 321.85,958.2 331.93,954.18 342,953.71 352.07,949.73 362.15,951.41 372.22,954.5 382.3,955.18 392.37,952.48 402.44,948.78 412.52,944.81 422.59,945.58 432.67,946.36 442.74,946.16 452.81,949.07 462.89,942.29 472.96,941.3 483.04,940.33 493.11,938.18 503.19,936.96 513.26,936.65 523.33,937.54 533.41,939.56 543.48,937.7 553.56,939.06 563.63,935.69 573.7,936.57 583.78,937.24 593.85,937.03 603.93,935.48 614,941.54" fill="none" stroke="#0070ff" stroke-width="7.3" stroke-linejoin="round" stroke-linecap="butt"/>
<polyline points="70,985.07 80.07,983.2 90.15,938.52 100.22,888.17 110.3,839.01 114.65,821.84 118.65,811.74 120.37,807.8 122.65,805.83 126.65,802.81 130.44,802.52 130.65,801.37 134.65,800.37 138.65,799.66 140.52,801.36 142.65,801.2 150.59,811.81 160.67,828.98 170.74,847.25 180.81,860.83 190.89,882.19 200.96,903.88 211.04,922.92 221.11,933.87 231.19,944.5 241.26,948.5 251.33,953.21 261.41,956.67 271.48,953.4 281.56,958.31 291.63,958.19 301.7,959.19 311.78,955.39 321.85,960.2 331.93,960.58 342,955.45 352.07,955.67 362.15,952.45 372.22,955.07 382.3,954.35 392.37,956.39 402.44,954.06 412.52,953.53 422.59,948.79 432.67,951.91 442.74,953.89 452.81,951.71 462.89,952.96 472.96,949.49 483.04,946.82 493.11,947.65 503.19,945.79 513.26,942.95 523.33,945.58 533.41,940.9 543.48,943.91 553.56,945.51 563.63,940.55 573.7,946.41 583.78,941.38 593.85,943.56 603.93,944.01 614,944.82" fill="none" stroke="#00a8ff" stroke-width="7.3" stroke-linejoin="round" stroke-linecap="butt"/>
<polyline points="70,985 80.07,983.81 90.15,946.62 100.22,900.36 110.3,864.45 117.1,846.01 120.37,841.76 121.1,840.52 125.1,838.84 129.1,839.31 130.44,838.58 133.1,839.77 137.1,841.97 140.52,847.05 141.1,844.88 145.1,849.21 150.59,856.39 160.67,870.1 170.74,880.45 180.81,892.74 190.89,902.9 200.96,918.32 211.04,932.37 221.11,938.43 231.19,947.89 241.26,950.62 251.33,951.42 261.41,958.57 271.48,957.97 281.56,963.71 291.63,967.03 301.7,962.37 311.78,965.74 321.85,964.32 331.93,962.95 342,964.88 352.07,962.17 362.15,961.83 372.22,962.65 382.3,964.41 392.37,964.09 402.44,959.72 412.52,959.76 422.59,958.62 432.67,962.01 442.74,961.58 452.81,963.84 462.89,958.76 472.96,962.37 483.04,959.57 493.11,961.22 503.19,960.33 513.26,959.77 523.33,955.49 533.41,958.93 543.48,958.55 553.56,961.98 563.63,958.65 573.7,959.49 583.78,961.27 593.85,960.63 603.93,958.29 614,960.52" fill="none" stroke="#00d0ff" stroke-width="7.3" stroke-linejoin="round" stroke-linecap="butt"/>
<polyline points="70,984.23 80.07,983.73 90.15,960.16 100.22,936.81 110.3,913.67 117.1,903.11 120.37,898.77 121.1,899.99 125.1,899.52 129.1,900.31 130.44,899.32 133.1,900.43 137.1,901.36 140.52,899.56 141.1,902.9 145.1,905.75 150.59,911.54 160.67,921.87 170.74,927.29 180.81,930.57 190.89,940.91 200.96,947.54 211.04,954.87 221.11,956.59 231.19,959.38 241.26,965.99 251.33,964.5 261.41,968.42 271.48,970.75 281.56,972.76 291.63,974.59 301.7,974.62 311.78,974.76 321.85,977.05 331.93,976.51 342,973.43 352.07,970.84 362.15,970.16 372.22,973.08 382.3,972.46 392.37,975.38 402.44,973.29 412.52,969.19 422.59,971.8 432.67,972.51 442.74,971.57 452.81,975.34 462.89,974.25 472.96,971.51 483.04,974.26 493.11,967.86 503.19,967.59 513.26,970.97 523.33,971.29 533.41,966.47 543.48,971.04 553.56,972.2 563.63,969.53 573.7,970.17 583.78,972.75 593.85,972.01 603.93,972.3 614,972.97" fill="none" stroke="#00f4ff" stroke-width="7.3" stroke-linejoin="round" stroke-linecap="butt"/>
<polyline points="70,984.67 80.07,984.61 90.15,970.94 100.22,960.43 110.3,951.35 118.11,942.78 120.37,939.66 122.11,941.9 126.11,942.49 130.11,943.67 130.44,940.79 134.11,943.29 138.11,943.6 140.52,944.9 142.11,944.85 146.11,946.97 150.59,952.33 160.67,954.89 170.74,962.32 180.81,961.03 190.89,970.97 200.96,971.28 211.04,979.35 221.11,980.29 231.19,983.39 241.26,979.54 251.33,985.55 261.41,987.55 271.48,983.54 281.56,987.79 291.63,986.27 301.7,985.7 311.78,984.91 321.85,987.28 331.93,989.83 342,988.19 352.07,989.15 362.15,989.38 372.22,986.63 382.3,989.11 392.37,985.47 402.44,987.79 412.52,987.15 422.59,987.08 432.67,984.97 442.74,990.94 452.81,987.61 462.89,991.49 472.96,988.16 483.04,986.01 493.11,990.11 503.19,990.01 513.26,985.61 523.33,989.87 533.41,985.15 543.48,987.6 553.56,989.1 563.63,989 573.7,986.83 583.78,985.06 593.85,984.55 603.93,988.28 614,993.42" fill="none" stroke="#40f8c0" stroke-width="7.3" stroke-linejoin="round" stroke-linecap="butt"/>
<polyline points="70,984.53 80.07,983.45 90.15,976.96 100.22,974.87 110.3,964.34 117.1,960.67 120.37,960.08 121.1,959.82 125.1,960.39 129.1,961.3 130.44,963.11 133.1,960.82 137.1,960.22 140.52,959.56 141.1,960.07 145.1,961.08 150.59,963.94 160.67,964.55 170.74,968.71 180.81,966.53 190.89,964.67 200.96,971.45 211.04,970.53 221.11,972.84 231.19,974.24 241.26,970.46 251.33,974.23 261.41,976.01 271.48,971.13 281.56,975.71 291.63,973.85 301.7,978.23 311.78,975.84 321.85,978.89 331.93,972.6 342,974.56 352.07,974.01 362.15,974.59 372.22,973.24 382.3,978.48 392.37,976.68 402.44,972.5 412.52,970.68 422.59,973.81 432.67,973.04 442.74,977.37 452.81,975.98 462.89,974.87 472.96,971.56 483.04,972.24 493.11,972.99 503.19,974.72 513.26,972.18 523.33,974.76 533.41,972.68 543.48,975.68 553.56,975.59 563.63,972.19 573.7,973.24 583.78,971.23 593.85,969.9 603.93,977.14 614,979.89" fill="none" stroke="#80ff80" stroke-width="7.3" stroke-linejoin="round" stroke-linecap="butt"/>
<polyline points="70,985 80.07,983.08 90.15,981.8 100.22,979.36 110.3,977.8 119.78,974.4 120.37,976.79 123.78,975.11 127.78,976.02 130.44,973.63 131.78,976.1 135.78,975.09 139.78,974.19 140.52,972.42 143.78,974.77 147.78,975.44 150.59,974.31 160.67,979.38 170.74,980.76 180.81,972.75 190.89,977.87 200.96,978.59 211.04,979.14 221.11,974.61 231.19,980.41 241.26,976.23 251.33,975.17 261.41,976.71 271.48,979.83 281.56,979.57 291.63,982.12 301.7,981.25 311.78,979.01 321.85,982.91 331.93,978.59 342,980 352.07,979.29 362.15,978.66 372.22,981.32 382.3,980.63 392.37,979.83 402.44,974.97 412.52,975.17 422.59,975.54 432.67,975.08 442.74,978.78 452.81,977.63 462.89,978.17 472.96,979.24 483.04,977.62 493.11,976.46 503.19,975.6 513.26,975.22 523.33,979.91 533.41,977.33 543.48,978.06 553.56,976.68 563.63,978.63 573.7,977.39 583.78,977.12 593.85,979.6 603.93,979.81 614,981.98" fill="none" stroke="#a8ff40" stroke-width="7.3" stroke-linejoin="round" stroke-linecap="butt"/>
<polyline points="70,983.92 80.07,984.29 90.15,982.27 100.22,983.42 110.3,981.27 119.78,979.08 120.37,978.86 123.78,979.97 127.78,980.99 130.44,981.05 131.78,981.11 135.78,980.09 139.78,979.11 140.52,980.67 143.78,979.6 147.78,980.17 150.59,982.76 160.67,985.15 170.74,982.21 180.81,977 190.89,979.5 200.96,980.48 211.04,984.71 221.11,980.18 231.19,980.63 241.26,980.65 251.33,979.95 261.41,979.64 271.48,978.49 281.56,985.16 291.63,986.08 301.7,982.62 311.78,985.31 321.85,984.6 331.93,981.55 342,986.63 352.07,982.83 362.15,985.75 372.22,985.6 382.3,983.25 392.37,985.01 402.44,985.19 412.52,985.07 422.59,981.73 432.67,983.76 442.74,987.59 452.81,984.02 462.89,987.59 472.96,986.11 483.04,981.73 493.11,983.79 503.19,982.56 513.26,980.74 523.33,983.92 533.41,985.26 543.48,983.71 553.56,982.34 563.63,983.22 573.7,987.08 583.78,986.57 593.85,983.95 603.93,982.21 614,990.44" fill="none" stroke="#f0ff10" stroke-width="7.3" stroke-linejoin="round" stroke-linecap="butt"/>
<polyline points="70,984.58 80.07,984.01 90.15,986.58 100.22,981.7 110.3,978.6 119.78,979.08 120.37,976.84 123.78,979.97 127.78,980.99 130.44,981.53 131.78,981.11 135.78,980.09 139.78,979.11 140.52,978.57 143.78,979.6 147.78,980.17 150.59,978.1 160.67,985.28 170.74,983.66 180.81,977.1 190.89,976.85 200.96,978.07 211.04,985.83 221.11,977.24 231.19,981.34 241.26,983.01 251.33,977.9 261.41,981.66 271.48,980.99 281.56,985.01 291.63,982.17 301.7,982.39 311.78,981.46 321.85,981.76 331.93,984.97 342,986.4 352.07,981.94 362.15,980.38 372.22,985.8 382.3,987.11 392.37,985.19 402.44,982.45 412.52,984.66 422.59,983.53 432.67,984.13 442.74,986.63 452.81,984.42 462.89,985.24 472.96,986.19 483.04,985.53 493.11,982.32 503.19,985.26 513.26,984.66 523.33,980.56 533.41,980.39 543.48,981.74 553.56,981.75 563.63,984.78 573.7,986.29 583.78,984.1 593.85,985.63 603.93,984.11 614,985.84" fill="none" stroke="#ffe600" stroke-width="7.3" stroke-linejoin="round" stroke-linecap="butt"/>
<polyline points="638,983.31 648.07,983.56 658.15,921.25 668.22,854.73 677.55,806.28 678.3,800.49 681.55,793.5 685.55,785.69 688.37,781.19 689.55,781.16 693.55,779.38 697.55,779.57 698.44,777.22 701.55,778.14 705.55,776.49 708.52,773.79 718.59,778.58 728.67,781.2 738.74,779.06 748.81,796.02 758.89,814.48 768.96,838.92 779.04,857.86 789.11,878.47 799.19,899.75 809.26,916.45 819.33,924.76 829.41,933.47 839.48,942.6 849.56,944.28 859.63,947.22 869.7,950.32 879.78,950.35 889.85,950.85 899.93,950.13 910,950.96 920.07,951.55 930.15,949.18 940.22,945.83 950.3,942.97 960.37,948.43 970.44,945.99 980.52,943.1 990.59,941.52 1000.67,938.2 1010.74,937.93 1020.81,940.24 1030.89,937.43 1040.96,936.4 1051.04,938.79 1061.11,934.95 1071.19,934.99 1081.26,929.77 1091.33,931.3 1101.41,932.67 1111.48,931.34 1121.56,926.73 1131.63,932.39 1141.7,931.57 1151.78,929.1 1161.85,927.64 1171.93,928.9 1182,932.4" fill="none" stroke="#5000ff" stroke-width="7.3" stroke-linejoin="round" stroke-linecap="butt"/>
<polyline points="638,984.42 648.07,983.4 658.15,914.86 668.22,839.04 674.15,801.13 678.15,784.79 678.3,784.83 682.15,775.35 686.15,770.42 688.37,766.54 690.15,769.22 694.15,769.41 698.15,769.53 698.44,767.23 702.15,767.89 708.52,765.69 718.59,769.3 728.67,772.96 738.74,771.54 748.81,793.85 758.89,809.55 768.96,832.37 779.04,858.92 789.11,877.53 799.19,900.16 809.26,914.68 819.33,925.56 829.41,934.88 839.48,941.58 849.56,947.36 859.63,946.75 869.7,945.82 879.78,948.07 889.85,947.37 899.93,947.02 910,951.91 920.07,947.94 930.15,947.32 940.22,947.14 950.3,944.11 960.37,943.99 970.44,942.38 980.52,945.08 990.59,942.51 1000.67,942.69 1010.74,935.9 1020.81,938.84 1030.89,937.03 1040.96,937.99 1051.04,936.74 1061.11,939.41 1071.19,936.52 1081.26,933.63 1091.33,930.93 1101.41,931.57 1111.48,929.03 1121.56,928.14 1131.63,933.38 1141.7,929.66 1151.78,926.98 1161.85,931.21 1171.93,929.21 1182,934.11" fill="none" stroke="#0070ff" stroke-width="7.3" stroke-linejoin="round" stroke-linecap="butt"/>
<polyline points="638,983.45 648.07,983.45 658.15,937.93 668.22,884.38 678.3,839.82 684.35,820.37 688.35,811.79 688.37,811.26 692.35,805.7 696.35,801.86 698.44,798.88 700.35,798.63 704.35,796.99 708.35,795.52 708.52,798.04 712.35,796.53 718.59,801.03 728.67,813.32 738.74,827.88 748.81,848.94 758.89,871.71 768.96,887.31 779.04,907.35 789.11,921.74 799.19,930.91 809.26,938.1 819.33,945.79 829.41,945.75 839.48,950.37 849.56,952.22 859.63,947.16 869.7,947.47 879.78,947.27 889.85,948.09 899.93,946.96 910,946.91 920.07,949.5 930.15,949.66 940.22,947.06 950.3,947.11 960.37,943.93 970.44,944.88 980.52,945.79 990.59,941.82 1000.67,942.87 1010.74,937.66 1020.81,942.46 1030.89,938.71 1040.96,939.15 1051.04,937.55 1061.11,939.77 1071.19,935.25 1081.26,934.12 1091.33,936.9 1101.41,932.38 1111.48,935.67 1121.56,935.13 1131.63,934.78 1141.7,935.37 1151.78,931.22 1161.85,932.82 1171.93,936.87 1182,941.21" fill="none" stroke="#00a8ff" stroke-width="7.3" stroke-linejoin="round" stroke-linecap="butt"/>
<polyline points="638,983.8 648.07,982.92 658.15,945.87 668.22,898.59 678.3,864.76 688.11,838.82 688.37,839.97 692.11,833.72 696.11,831.21 698.44,832.74 700.11,829.73 704.11,828.85 708.11,830.24 708.52,830.68 712.11,833.94 716.11,837.93 718.59,839.02 728.67,852.35 738.74,861.04 748.81,879.28 758.89,889.17 768.96,903.19 779.04,918.8 789.11,924.58 799.19,931.8 809.26,937.85 819.33,946.96 829.41,946.94 839.48,950.86 849.56,954.51 859.63,953.44 869.7,951.06 879.78,950.55 889.85,954.96 899.93,950.56 910,954.05 920.07,957.14 930.15,956.09 940.22,950.53 950.3,951.92 960.37,952.37 970.44,950.48 980.52,952.76 990.59,947.82 1000.67,948.73 1010.74,946.34 1020.81,949.59 1030.89,950.56 1040.96,948.07 1051.04,949.15 1061.11,952.04 1071.19,950.75 1081.26,946.04 1091.33,948.98 1101.41,942.43 1111.48,946.53 1121.56,946.3 1131.63,945.54 1141.7,946.18 1151.78,943.53 1161.85,946.51 1171.93,944.25 1182,950.69" fill="none" stroke="#00d0ff" stroke-width="7.3" stroke-linejoin="round" stroke-linecap="butt"/>
<polyline points="638,982.94 648.07,983.42 658.15,954.24 668.22,925.49 678.3,899.29 679.25,897.64 683.25,892.43 687.25,889.34 688.37,886.65 691.25,887.3 695.25,886.46 698.44,886.44 699.25,886.08 703.25,884.65 707.25,883.85 708.52,883.39 718.59,888.69 728.67,899.63 738.74,907.97 748.81,920.96 758.89,932.25 768.96,939.84 779.04,948.77 789.11,956.11 799.19,957.08 809.26,959.75 819.33,962.84 829.41,965.07 839.48,960.53 849.56,964.61 859.63,960.72 869.7,960.78 879.78,963.02 889.85,962.74 899.93,962.43 910,963.31 920.07,964.55 930.15,965.28 940.22,964.33 950.3,966.25 960.37,966.57 970.44,964.54 980.52,969.69 990.59,966.47 1000.67,966.57 1010.74,964.49 1020.81,964.79 1030.89,965.29 1040.96,963.84 1051.04,969.77 1061.11,970.26 1071.19,964.6 1081.26,966.07 1091.33,964.53 1101.41,965.19 1111.48,964.57 1121.56,963.15 1131.63,962.55 1141.7,963.77 1151.78,963.53 1161.85,965.21 1171.93,963.04 1182,968.94" fill="none" stroke="#00f4ff" stroke-width="7.3" stroke-linejoin="round" stroke-linecap="butt"/>
<polyline points="638,983.71 648.07,983.16 658.15,972.32 668.22,953.59 678.3,943.93 679.25,943.46 683.25,941.5 687.25,940.51 688.37,941.38 691.25,939.74 695.25,939.46 698.44,941.37 699.25,939.08 703.25,937.44 707.25,935.8 708.52,938.36 718.59,936.13 728.67,943.45 738.74,943.63 748.81,950.76 758.89,955.76 768.96,962.08 779.04,965.11 789.11,967.56 799.19,968.74 809.26,969.33 819.33,970.5 829.41,969.86 839.48,969.62 849.56,974.24 859.63,973.17 869.7,968.53 879.78,973.57 889.85,971.12 899.93,972.33 910,973.4 920.07,973.29 930.15,972.54 940.22,972.74 950.3,973.14 960.37,975.86 970.44,974.94 980.52,977.25 990.59,975.31 1000.67,975.36 1010.74,975.29 1020.81,975.05 1030.89,977.53 1040.96,976.27 1051.04,977.04 1061.11,974.04 1071.19,975.65 1081.26,973.01 1091.33,970.84 1101.41,971.41 1111.48,973.05 1121.56,969.22 1131.63,970.16 1141.7,974.13 1151.78,971.44 1161.85,974.78 1171.93,975.2 1182,979.28" fill="none" stroke="#40f8c0" stroke-width="7.3" stroke-linejoin="round" stroke-linecap="butt"/>
<polyline points="638,983.26 648.07,983.58 658.15,977.24 668.22,973.35 678.3,965.44 688.37,965.5 692.16,964.45 696.16,963.99 698.44,966.47 700.16,962.84 704.16,961.07 708.16,959.55 708.52,960.1 712.16,960.16 716.16,960.86 718.59,960.9 720.16,962.24 728.67,968.06 738.74,960.89 748.81,966.16 758.89,967.53 768.96,972.59 779.04,970.93 789.11,973.23 799.19,971.71 809.26,974.81 819.33,977.58 829.41,976.9 839.48,972.9 849.56,976.89 859.63,975.26 869.7,976.57 879.78,974.56 889.85,978.53 899.93,977.66 910,979.11 920.07,980.1 930.15,979.62 940.22,976.18 950.3,975.02 960.37,981.28 970.44,976.74 980.52,975.58 990.59,975.9 1000.67,977.15 1010.74,973.71 1020.81,980.83 1030.89,975.87 1040.96,979.8 1051.04,978.43 1061.11,977.36 1071.19,977.38 1081.26,975.62 1091.33,973.99 1101.41,976.79 1111.48,976.86 1121.56,978.08 1131.63,978.09 1141.7,978.33 1151.78,977.96 1161.85,977.5 1171.93,976.96 1182,980.54" fill="none" stroke="#80ff80" stroke-width="7.3" stroke-linejoin="round" stroke-linecap="butt"/>
<polyline points="638,984.58 648.07,982.78 658.15,983.17 668.22,976.6 678.3,977.54 688.37,974.5 689.99,974.95 693.99,974.77 697.99,974.74 698.44,974.02 701.99,972.99 705.99,971.31 708.52,971.36 709.99,970.73 713.99,971.17 717.99,971.61 718.59,969.27 728.67,973.54 738.74,970.76 748.81,973.92 758.89,975.98 768.96,975.83 779.04,979.71 789.11,978.83 799.19,978.13 809.26,978.5 819.33,977.77 829.41,978.31 839.48,978.7 849.56,977.03 859.63,974.73 869.7,975.74 879.78,975.84 889.85,974.96 899.93,972.96 910,975.82 920.07,979.77 930.15,979.93 940.22,976.83 950.3,976.72 960.37,975.66 970.44,974.06 980.52,979.45 990.59,976.48 1000.67,977.4 1010.74,973.53 1020.81,975.81 1030.89,976.28 1040.96,975.15 1051.04,978.73 1061.11,978.13 1071.19,978.55 1081.26,975.49 1091.33,976.57 1101.41,976.67 1111.48,977.63 1121.56,973.08 1131.63,978.87 1141.7,978.73 1151.78,976.9 1161.85,974.63 1171.93,978.81 1182,982.18" fill="none" stroke="#a8ff40" stroke-width="7.3" stroke-linejoin="round" stroke-linecap="butt"/>
<polyline points="638,983.93 648.07,984.28 658.15,983.21 668.22,981.41 678.3,982.63 688.37,981.55 689.99,981.44 693.99,981.53 697.99,981.65 698.44,978.68 701.99,979.97 705.99,978.31 708.52,979.02 709.99,977.67 713.99,978.01 717.99,978.35 718.59,977.74 728.67,981.61 738.74,976.88 748.81,978.9 758.89,979.82 768.96,982.39 779.04,981.42 789.11,982.17 799.19,983.28 809.26,977.69 819.33,980.48 829.41,979.3 839.48,981.96 849.56,980.75 859.63,981.04 869.7,978.67 879.78,981.93 889.85,983.09 899.93,979.79 910,984.41 920.07,981.77 930.15,981.96 940.22,983.52 950.3,980.44 960.37,981.3 970.44,979.19 980.52,984.54 990.59,983.22 1000.67,979.97 1010.74,980.37 1020.81,982.45 1030.89,982.17 1040.96,980.79 1051.04,982.44 1061.11,982.13 1071.19,985.76 1081.26,979.11 1091.33,981.49 1101.41,981.05 1111.48,981.89 1121.56,980.03 1131.63,981.25 1141.7,984.23 1151.78,978.02 1161.85,978.12 1171.93,979.91 1182,986.74" fill="none" stroke="#f0ff10" stroke-width="7.3" stroke-linejoin="round" stroke-linecap="butt"/>
<polyline points="638,984.46 648.07,982.93 658.15,983.81 668.22,980.04 678.3,982.77 688.37,980.71 689.99,981.44 693.99,981.53 697.99,981.65 698.44,983.93 701.99,979.97 705.99,978.31 708.52,974.88 709.99,977.67 713.99,978.01 717.99,978.35 718.59,978.83 728.67,982.06 738.74,981.09 748.81,979.71 758.89,977.63 768.96,984.51 779.04,981.08 789.11,979.88 799.19,980.02 809.26,982.75 819.33,981.07 829.41,978.83 839.48,979.49 849.56,979.65 859.63,978.53 869.7,982.54 879.78,981.67 889.85,979.36 899.93,978.56 910,985.34 920.07,984.59 930.15,982.58 940.22,981.25 950.3,984.97 960.37,981.87 970.44,982.79 980.52,980.6 990.59,981.21 1000.67,981.07 1010.74,979.55 1020.81,982.43 1030.89,982.76 1040.96,984.74 1051.04,982.32 1061.11,981.4 1071.19,985.25 1081.26,983.45 1091.33,983.34 1101.41,978.98 1111.48,980.07 1121.56,981.78 1131.63,978.6 1141.7,978.96 1151.78,980.01 1161.85,978.29 1171.93,980.87 1182,983.26" fill="none" stroke="#ffe600" stroke-width="7.3" stroke-linejoin="round" stroke-linecap="butt"/>
<polyline points="1205,974.85 1215.07,975.58 1225.15,918.75 1235.22,854.78 1245.3,792.78 1247.25,782.63 1251.25,769.96 1255.25,761.99 1255.37,763.09 1259.25,755.76 1263.25,752.54 1265.44,752.34 1267.25,751.94 1271.25,752.13 1275.25,753.95 1275.52,753.75 1285.59,767.82 1295.67,790.68 1305.74,813.84 1315.81,840.76 1325.89,867.87 1335.96,894.64 1346.04,915.56 1356.11,932.92 1366.19,940.42 1376.26,951.39 1386.33,957.84 1396.41,959.87 1406.48,961.31 1416.56,963.65 1426.63,962.7 1436.7,960.66 1446.78,961.57 1456.85,955.89 1466.93,962.9 1477,958.11 1487.07,955.33 1497.15,952.05 1507.22,955.41 1517.3,956.5 1527.37,952.27 1537.44,953.58 1547.52,951.5 1557.59,948.2 1567.67,944.99 1577.74,947.85 1587.81,945.42 1597.89,945.54 1607.96,945.22 1618.04,941.61 1628.11,944.05 1638.19,944.61 1648.26,941.13 1658.33,943.52 1668.41,942.34 1678.48,937.65 1688.56,935.7 1698.63,935.06 1708.7,936.39 1718.78,936.21 1728.85,935.95 1738.93,936.62 1749,938.96" fill="none" stroke="#ff00f0" stroke-width="7.3" stroke-linejoin="round" stroke-linecap="butt"/>
<polyline points="1205,976.43 1215.07,974.88 1225.15,918.2 1235.22,849.89 1245.3,787.69 1251.94,761.29 1255.37,753.76 1255.94,753.21 1259.94,748.62 1263.94,747.84 1265.44,749.22 1267.94,750.45 1271.94,756.76 1275.52,764.64 1275.94,763.93 1279.94,772.36 1285.59,785.79 1295.67,811.49 1305.74,833.52 1315.81,863.19 1325.89,890.25 1335.96,905.43 1346.04,925.08 1356.11,936.4 1366.19,944.78 1376.26,954.24 1386.33,954.43 1396.41,957.84 1406.48,958.92 1416.56,958.79 1426.63,962.84 1436.7,958.6 1446.78,956.07 1456.85,956.85 1466.93,959.67 1477,954.67 1487.07,955.42 1497.15,952.34 1507.22,950.39 1517.3,952.4 1527.37,948.26 1537.44,950.63 1547.52,949.32 1557.59,945.25 1567.67,942.66 1577.74,944.47 1587.81,939.9 1597.89,941.08 1607.96,939.95 1618.04,936.37 1628.11,939.48 1638.19,935.11 1648.26,938.95 1658.33,935.87 1668.41,932.53 1678.48,931.88 1688.56,931.7 1698.63,931.37 1708.7,933.39 1718.78,927.68 1728.85,932 1738.93,932.91 1749,930.65" fill="none" stroke="#0070ff" stroke-width="7.3" stroke-linejoin="round" stroke-linecap="butt"/>
<polyline points="1205,974.77 1215.07,974.93 1225.15,933.01 1235.22,888.22 1245.3,845.28 1252.43,824.25 1255.37,822.95 1256.43,818.68 1260.43,815.35 1264.43,814.69 1265.44,816.32 1268.43,816.57 1272.43,821.1 1275.52,824.32 1276.43,826.42 1280.43,832.71 1285.59,842.97 1295.67,862.62 1305.74,878.45 1315.81,901.24 1325.89,915.25 1335.96,927.89 1346.04,937 1356.11,946.93 1366.19,950.42 1376.26,958.57 1386.33,959.72 1396.41,960.76 1406.48,963.51 1416.56,960.86 1426.63,962.99 1436.7,959.93 1446.78,962.46 1456.85,960.55 1466.93,960.02 1477,958.09 1487.07,956.55 1497.15,955.55 1507.22,956.34 1517.3,958.33 1527.37,952.67 1537.44,953.89 1547.52,953.72 1557.59,948.61 1567.67,949.12 1577.74,949.4 1587.81,947.22 1597.89,951.32 1607.96,946.5 1618.04,946.13 1628.11,945.82 1638.19,944.11 1648.26,945.82 1658.33,943.07 1668.41,942.11 1678.48,943.7 1688.56,939.57 1698.63,939.42 1708.7,939.42 1718.78,940 1728.85,937.91 1738.93,941.9 1749,944.01" fill="none" stroke="#00a8ff" stroke-width="7.3" stroke-linejoin="round" stroke-linecap="butt"/>
<polyline points="1205,975.74 1215.07,974.24 1225.15,949.7 1235.22,919.17 1245.3,881.23 1253.42,870.37 1255.37,867.62 1257.42,866.4 1261.42,864.02 1265.42,863.5 1265.44,865.32 1269.42,864.85 1273.42,868.05 1275.52,867.6 1277.42,872.07 1281.42,876.75 1285.59,879.5 1295.67,897.03 1305.74,906.86 1315.81,922.15 1325.89,930.27 1335.96,941.89 1346.04,946.55 1356.11,950.49 1366.19,959.29 1376.26,960.01 1386.33,962.91 1396.41,961.7 1406.48,965.22 1416.56,964.72 1426.63,961.41 1436.7,961.96 1446.78,958.16 1456.85,960.74 1466.93,960.26 1477,959.87 1487.07,957.16 1497.15,958.12 1507.22,958.94 1517.3,960.39 1527.37,958.97 1537.44,958.79 1547.52,958.43 1557.59,954.49 1567.67,953.25 1577.74,952.57 1587.81,951.9 1597.89,956.42 1607.96,954.08 1618.04,953.04 1628.11,952.72 1638.19,950.68 1648.26,955.71 1658.33,952.86 1668.41,951.66 1678.48,952.16 1688.56,949.51 1698.63,951.56 1708.7,947.62 1718.78,952.23 1728.85,951.32 1738.93,947.5 1749,951.78" fill="none" stroke="#00d0ff" stroke-width="7.3" stroke-linejoin="round" stroke-linecap="butt"/>
<polyline points="1205,975.09 1215.07,975.55 1225.15,968.06 1235.22,949.85 1245.3,939.44 1255.32,931.5 1255.37,932.54 1259.32,929.08 1263.32,927.56 1265.44,926.38 1267.32,927.06 1271.32,927.33 1275.32,928.43 1275.52,929.89 1279.32,930.38 1283.32,932.47 1285.59,936.6 1295.67,942.86 1305.74,945.41 1315.81,947.75 1325.89,953.5 1335.96,957.12 1346.04,957.29 1356.11,957.07 1366.19,962.77 1376.26,964.06 1386.33,966.37 1396.41,959.56 1406.48,961.61 1416.56,963.02 1426.63,965.84 1436.7,963.55 1446.78,958.55 1456.85,959.16 1466.93,960.57 1477,961.86 1487.07,961.72 1497.15,958.18 1507.22,961.23 1517.3,959 1527.37,961.07 1537.44,964.03 1547.52,959.93 1557.59,957.74 1567.67,958.71 1577.74,960.17 1587.81,955.3 1597.89,959.39 1607.96,958.84 1618.04,958.99 1628.11,957.36 1638.19,959.19 1648.26,961.21 1658.33,957.28 1668.41,956.71 1678.48,954.87 1688.56,955.9 1698.63,954.79 1708.7,955.69 1718.78,955.66 1728.85,954.65 1738.93,956.49 1749,957.83" fill="none" stroke="#00f4ff" stroke-width="7.3" stroke-linejoin="round" stroke-linecap="butt"/>
<polyline points="1205,975.24 1215.07,974.91 1225.15,969.6 1235.22,966.9 1245.3,955.27 1255.37,951.3 1263.9,947.51 1265.44,948.66 1267.9,946.3 1271.9,945.6 1275.52,943.42 1275.9,945.35 1279.9,945.89 1283.9,946.74 1285.59,944.28 1287.9,948.08 1291.9,949.61 1295.67,949.57 1305.74,950.82 1315.81,955.65 1325.89,955.34 1335.96,956.92 1346.04,960.04 1356.11,961.29 1366.19,959.93 1376.26,963.75 1386.33,962.23 1396.41,963.23 1406.48,964.87 1416.56,963.25 1426.63,964.87 1436.7,967.96 1446.78,961.51 1456.85,965.56 1466.93,968.43 1477,964.04 1487.07,965.6 1497.15,960.4 1507.22,965.84 1517.3,962.52 1527.37,964.2 1537.44,965.57 1547.52,964.5 1557.59,965.76 1567.67,963.53 1577.74,960.33 1587.81,963.75 1597.89,961.7 1607.96,962.01 1618.04,963.54 1628.11,962.09 1638.19,964.42 1648.26,968.02 1658.33,966.43 1668.41,965.1 1678.48,965.03 1688.56,959.6 1698.63,963.63 1708.7,964.69 1718.78,964.15 1728.85,961.09 1738.93,962.29 1749,962.97" fill="none" stroke="#40f8c0" stroke-width="7.3" stroke-linejoin="round" stroke-linecap="butt"/>
<polyline points="1205,975.58 1215.07,974.87 1225.15,975.28 1235.22,969.3 1245.3,962.45 1255.37,963.66 1265.44,957.98 1267.47,957.6 1271.47,956.85 1275.47,956.36 1275.52,954.37 1279.47,956.68 1283.47,957.12 1285.59,958.59 1287.47,957.99 1291.47,959.15 1295.47,960.09 1295.67,957.91 1305.74,959.68 1315.81,960.53 1325.89,960.07 1335.96,964.55 1346.04,962.85 1356.11,967.28 1366.19,966.32 1376.26,969.57 1386.33,968.78 1396.41,963.74 1406.48,970.21 1416.56,966.2 1426.63,968.57 1436.7,966.08 1446.78,964.17 1456.85,965.52 1466.93,966.36 1477,968.5 1487.07,969.19 1497.15,968.78 1507.22,968.15 1517.3,966.16 1527.37,968.17 1537.44,966.86 1547.52,967.46 1557.59,968.49 1567.67,967.34 1577.74,964.32 1587.81,967.32 1597.89,967.69 1607.96,967.35 1618.04,966.01 1628.11,966.56 1638.19,965.7 1648.26,970.24 1658.33,969.66 1668.41,969.6 1678.48,966.44 1688.56,968.33 1698.63,965.55 1708.7,964.08 1718.78,964.74 1728.85,967.5 1738.93,963.68 1749,969.25" fill="none" stroke="#80ff80" stroke-width="7.3" stroke-linejoin="round" stroke-linecap="butt"/>
<polyline points="1205,976.36 1215.07,974.18 1225.15,977.95 1235.22,972.62 1245.3,969.25 1254.43,970.66 1255.37,969.78 1258.43,969.79 1262.43,968.76 1265.44,970.87 1266.43,968.01 1270.43,967.67 1274.43,967.42 1275.52,967.29 1278.43,967.82 1282.43,968.33 1285.59,967.86 1295.67,971.49 1305.74,966.56 1315.81,969.58 1325.89,967.58 1335.96,969.96 1346.04,971.52 1356.11,971.87 1366.19,974.5 1376.26,972.74 1386.33,972.67 1396.41,970.8 1406.48,976.76 1416.56,971.47 1426.63,972.7 1436.7,972.55 1446.78,972.53 1456.85,969.46 1466.93,971.69 1477,974.86 1487.07,971.75 1497.15,970.41 1507.22,969.78 1517.3,971.05 1527.37,970.72 1537.44,972.67 1547.52,975.59 1557.59,974.7 1567.67,972.71 1577.74,970.35 1587.81,971.79 1597.89,974.53 1607.96,971.02 1618.04,971.6 1628.11,972.49 1638.19,971.14 1648.26,972.96 1658.33,971.93 1668.41,974.77 1678.48,971.1 1688.56,967.18 1698.63,967.43 1708.7,970.71 1718.78,967.2 1728.85,970.04 1738.93,968.07 1749,971.86" fill="none" stroke="#a8ff40" stroke-width="7.3" stroke-linejoin="round" stroke-linecap="butt"/>
<polyline points="1205,975.49 1215.07,974.4 1225.15,978.5 1235.22,976.12 1245.3,970.03 1254.43,974.36 1255.37,971.85 1258.43,973.66 1262.43,972.72 1265.44,972.87 1266.43,972.02 1270.43,971.68 1274.43,971.38 1275.52,973.46 1278.43,971.71 1282.43,972.16 1285.59,971.23 1295.67,975.58 1305.74,974.85 1315.81,977.04 1325.89,975.49 1335.96,973.99 1346.04,972.44 1356.11,974.73 1366.19,974.33 1376.26,977.63 1386.33,976.48 1396.41,972.27 1406.48,979.56 1416.56,973.03 1426.63,976.28 1436.7,975.34 1446.78,977.66 1456.85,972.05 1466.93,977.76 1477,979.86 1487.07,975.77 1497.15,976.36 1507.22,975.98 1517.3,976.14 1527.37,976.32 1537.44,976.69 1547.52,976.25 1557.59,973.21 1567.67,977.55 1577.74,976.53 1587.81,976.47 1597.89,976.35 1607.96,974.17 1618.04,974.56 1628.11,978.01 1638.19,978.03 1648.26,976.85 1658.33,978.22 1668.41,979.58 1678.48,972.25 1688.56,972.79 1698.63,973.75 1708.7,972.9 1718.78,973.74 1728.85,971.8 1738.93,971.46 1749,977.89" fill="none" stroke="#f0ff10" stroke-width="7.3" stroke-linejoin="round" stroke-linecap="butt"/>
<rect x="81.5" y="55.8" width="535" height="54.4" fill="#000"/>
<rect x="524.5" y="62.6" width="85.3" height="45.6" fill="#fff"/>
<rect x="551.4" y="69.9" width="31.5" height="30" fill="#000"/>
<text x="163.66" y="100.2" font-size="44.2" fill="#fff">Progesterone</text>
<rect x="648.8" y="55.9" width="534.3" height="54.4" fill="#000"/>
<rect x="1092.1" y="60.3" width="84.1" height="45.6" fill="#fff"/>
<circle cx="1133.5" cy="81.6" r="15.9" fill="#000"/>
<text x="676.38" y="100.2" font-size="44.2" fill="#fff" textLength="405.42" lengthAdjust="spacingAndGlyphs">17-OH-Progesterone</text>
<rect x="1215.5" y="55.9" width="535.2" height="54.4" fill="#000"/>
<rect x="1660" y="60.3" width="85.2" height="46.6" fill="#fff"/>
<polygon points="1702.4,60.5 1683.1,93.8 1722.1,93.8" fill="#000"/>
<text x="1317.46" y="100" font-size="44.2" fill="#fff" textLength="273.65" lengthAdjust="spacingAndGlyphs">Pregnenolone</text>
<rect x="81.5" y="629.3" width="534" height="54.3" fill="#000"/>
<rect x="526" y="633.9" width="83.8" height="46.6" fill="#fff"/>
<polygon points="547.8,644.8 587.6,644.8 568.1,679.1" fill="#000"/>
<text x="106.26" y="673.7" font-size="44.2" fill="#fff" textLength="399.75" lengthAdjust="spacingAndGlyphs">Deoxycorticosterone</text>
<rect x="648.8" y="629.1" width="534.1" height="54.5" fill="#000"/>
<rect x="1089.8" y="633.8" width="85.2" height="45.7" fill="#fff"/>
<polygon points="1132.6,635 1153.3,656 1132.6,677.1 1111.9,656" fill="#000"/>
<text x="707" y="673.3" font-size="44.2" fill="#fff" textLength="332.07" lengthAdjust="spacingAndGlyphs">Androstenedione</text>
<rect x="1215.5" y="629.1" width="535.4" height="54.5" fill="#000"/>
<rect x="1661" y="636" width="84.2" height="45.8" fill="#fff"/>
<polygon points="1681,659.1 1714.8,638.8 1714.8,678.1" fill="#000"/>
<text x="1312.09" y="673.4" font-size="44.2" fill="#fff" textLength="286.64" lengthAdjust="spacingAndGlyphs">Corticosterone</text>
<text x="1782.23" y="103.7" font-size="43.7" fill="#000" textLength="251.9" lengthAdjust="spacingAndGlyphs">Steroid (nM):</text>
<line x1="1784" y1="142.4" x2="1878" y2="142.4" stroke="#ff00f0" stroke-width="8" stroke-linecap="round"/>
<text x="1890.75" y="156.3" font-size="43.7" fill="#000">300000</text>
<line x1="1784" y1="195.27" x2="1878" y2="195.27" stroke="#c800ff" stroke-width="8" stroke-linecap="round"/>
<text x="1889.22" y="209.17" font-size="43.7" fill="#000">100000</text>
<line x1="1784" y1="248.14" x2="1878" y2="248.14" stroke="#5000ff" stroke-width="8" stroke-linecap="round"/>
<text x="1890.75" y="262.04" font-size="43.7" fill="#000">50000</text>
<line x1="1784" y1="301.01" x2="1878" y2="301.01" stroke="#0070ff" stroke-width="8" stroke-linecap="round"/>
<text x="1890.75" y="314.91" font-size="43.7" fill="#000">30000</text>
<line x1="1784" y1="353.88" x2="1878" y2="353.88" stroke="#00a8ff" stroke-width="8" stroke-linecap="round"/>
<text x="1889.22" y="367.78" font-size="43.7" fill="#000">10000</text>
<line x1="1784" y1="406.75" x2="1878" y2="406.75" stroke="#00d0ff" stroke-width="8" stroke-linecap="round"/>
<text x="1890.75" y="420.65" font-size="43.7" fill="#000">3000</text>
<line x1="1784" y1="459.62" x2="1878" y2="459.62" stroke="#00f4ff" stroke-width="8" stroke-linecap="round"/>
<text x="1889.22" y="473.52" font-size="43.7" fill="#000">1000</text>
<line x1="1784" y1="512.49" x2="1878" y2="512.49" stroke="#40f8c0" stroke-width="8" stroke-linecap="round"/>
<text x="1890.75" y="526.39" font-size="43.7" fill="#000">300</text>
<line x1="1784" y1="565.36" x2="1878" y2="565.36" stroke="#80ff80" stroke-width="8" stroke-linecap="round"/>
<text x="1889.22" y="579.26" font-size="43.7" fill="#000">100</text>
<line x1="1784" y1="618.23" x2="1878" y2="618.23" stroke="#a8ff40" stroke-width="8" stroke-linecap="round"/>
<text x="1890.75" y="632.13" font-size="43.7" fill="#000">30</text>
<line x1="1784" y1="671.1" x2="1878" y2="671.1" stroke="#f0ff10" stroke-width="8" stroke-linecap="round"/>
<text x="1889.22" y="685" font-size="43.7" fill="#000">10</text>
<line x1="1784" y1="723.97" x2="1878" y2="723.97" stroke="#ffe600" stroke-width="8" stroke-linecap="round"/>
<text x="1890.75" y="737.87" font-size="43.7" fill="#000">3</text>
<line x1="1784" y1="776.84" x2="1878" y2="776.84" stroke="#ff9a00" stroke-width="8" stroke-linecap="round"/>
<text x="1889.22" y="790.74" font-size="43.7" fill="#000">1</text>
<line x1="1784" y1="829.71" x2="1878" y2="829.71" stroke="#ff7800" stroke-width="8" stroke-linecap="round"/>
<text x="1890.75" y="843.61" font-size="43.7" fill="#000">0.3</text>
<line x1="1784" y1="882.58" x2="1878" y2="882.58" stroke="#ff5000" stroke-width="8" stroke-linecap="round"/>
<text x="1890.75" y="896.48" font-size="43.7" fill="#000">0.1</text>
<line x1="1784" y1="935.45" x2="1878" y2="935.45" stroke="#ff1400" stroke-width="8" stroke-linecap="round"/>
<text x="1890.75" y="949.35" font-size="43.7" fill="#000">0.01</text>
<path d="M462.8,714.5 V866.8 H594.3" fill="none" stroke="#000" stroke-width="7" stroke-linecap="round" stroke-linejoin="miter"/>
<text x="208.22" y="812" font-size="52" fill="#000" textLength="244.53" lengthAdjust="spacingAndGlyphs">50 % ΔF/F</text>
<text x="464.25" y="918.3" font-size="50" fill="#000" textLength="129.17" lengthAdjust="spacingAndGlyphs">100 s</text>
<text x="8.04" y="40.2" font-size="42.5" fill="#000" font-weight="bold">A</text>
<text x="6.24" y="1063.8" font-size="42.5" fill="#000" font-weight="bold" textLength="29.87" lengthAdjust="spacingAndGlyphs">B</text>
<text x="1097.1" y="1063" font-size="42.5" fill="#000" font-weight="bold" textLength="29.06" lengthAdjust="spacingAndGlyphs">C</text>
<text x="5.84" y="1740" font-size="42.5" fill="#000" font-weight="bold" textLength="29.96" lengthAdjust="spacingAndGlyphs">D</text>
<polyline points="292,1546.31 295,1546.07 298,1545.82 301,1545.56 304,1545.28 307,1544.99 310,1544.68 313,1544.35 316,1544.01 319,1543.64 322,1543.25 325,1542.85 328,1542.41 331,1541.96 334,1541.48 337,1540.97 340,1540.43 343,1539.87 346,1539.27 349,1538.64 352,1537.97 355,1537.27 358,1536.53 361,1535.75 364,1534.92 367,1534.06 370,1533.14 373,1532.18 376,1531.16 379,1530.09 382,1528.96 385,1527.77 388,1526.53 391,1525.21 394,1523.83 397,1522.38 400,1520.85 403,1519.24 406,1517.56 409,1515.79 412,1513.93 415,1511.98 418,1509.94 421,1507.8 424,1505.56 427,1503.21 430,1500.76 433,1498.19 436,1495.51 439,1492.71 442,1489.79 445,1486.74 448,1483.57 451,1480.26 454,1476.82 457,1473.24 460,1469.53 463,1465.68 466,1461.68 469,1457.54 472,1453.26 475,1448.83 478,1444.26 481,1439.55 484,1434.7 487,1429.7 490,1424.56 493,1419.29 496,1413.89 499,1408.36 502,1402.7 505,1396.93 508,1391.04 511,1385.04 514,1378.95 517,1372.76 520,1366.48 523,1360.13 526,1353.72 529,1347.24 532,1340.72 535,1334.16 538,1327.57 541,1320.96 544,1314.35 547,1307.74 550,1301.15 553,1294.57 556,1288.04 559,1281.55 562,1275.11 565,1268.74 568,1262.44 571,1256.22 574,1250.1 577,1244.07 580,1238.15 583,1232.33 586,1226.64 589,1221.07 592,1215.62 595,1210.31 598,1205.13 601,1200.09 604,1195.19 607,1190.43 610,1185.81 613,1181.34 616,1177.01 619,1172.83 622,1168.79 625,1164.89 628,1161.13 631,1157.51 634,1154.03 637,1150.68 640,1147.46 643,1144.38 646,1141.42 649,1138.58 652,1135.86 655,1133.25 658,1130.76 661,1128.38 664,1126.11 667,1123.94 670,1121.87 673,1119.89 676,1118 679,1116.21 682,1114.49 685,1112.86 688,1111.31 691,1109.84 694,1108.43 697,1107.1 700,1105.83 703,1104.62 706,1103.47 709,1102.39 712,1101.35 715,1100.37 718,1099.44 721,1098.56 724,1097.72 727,1096.92 730,1096.17 733,1095.46 736,1094.78 739,1094.14 742,1093.53 745,1092.95 748,1092.41 751,1091.89 754,1091.4 757,1090.94 760,1090.5 763,1090.08 766,1089.69 769,1089.32 772,1088.97 775,1088.63 778,1088.32 781,1088.02 784,1087.73 787,1087.47 790,1087.21 793,1086.98 796,1086.75 799,1086.53 802,1086.33 805,1086.14 808,1085.96 811,1085.79 814,1085.63 817,1085.47 820,1085.33 823,1085.19 826,1085.06 829,1084.94 832,1084.82 835,1084.71 838,1084.61 841,1084.51 844,1084.42 847,1084.33 850,1084.25 853,1084.17 856,1084.1 859,1084.03 862,1083.96 865,1083.9 868,1083.84 871,1083.79 874,1083.73 877,1083.68 880,1083.64 883,1083.59 886,1083.55 889,1083.51 892,1083.47 895,1083.44 898,1083.4 901,1083.37 904,1083.34 907,1083.31 910,1083.29 913,1083.26 916,1083.24 919,1083.21 922,1083.19 925,1083.17 928,1083.15 931,1083.14 934,1083.12 937,1083.1 940,1083.09 943,1083.07 946,1083.06 949,1083.05 952,1083.03 955,1083.02 958,1083.01 961,1083 964,1082.99 967,1082.98 970,1082.97 973,1082.97 976,1082.96" fill="none" stroke="#000" stroke-width="3.5"/>
<polyline points="292,1552.04 295,1551.79 298,1551.53 301,1551.25 304,1550.95 307,1550.64 310,1550.31 313,1549.97 316,1549.6 319,1549.22 322,1548.81 325,1548.38 328,1547.93 331,1547.45 334,1546.95 337,1546.42 340,1545.86 343,1545.28 346,1544.66 349,1544 352,1543.32 355,1542.59 358,1541.83 361,1541.03 364,1540.18 367,1539.29 370,1538.36 373,1537.37 376,1536.34 379,1535.25 382,1534.11 385,1532.9 388,1531.64 391,1530.32 394,1528.93 397,1527.46 400,1525.93 403,1524.33 406,1522.64 409,1520.88 412,1519.03 415,1517.09 418,1515.07 421,1512.95 424,1510.73 427,1508.42 430,1506 433,1503.48 436,1500.85 439,1498.11 442,1495.26 445,1492.28 448,1489.19 451,1485.98 454,1482.64 457,1479.18 460,1475.59 463,1471.87 466,1468.02 469,1464.04 472,1459.93 475,1455.69 478,1451.31 481,1446.81 484,1442.17 487,1437.41 490,1432.53 493,1427.52 496,1422.39 499,1417.14 502,1411.79 505,1406.33 508,1400.76 511,1395.1 514,1389.35 517,1383.52 520,1377.61 523,1371.64 526,1365.6 529,1359.51 532,1353.38 535,1347.22 538,1341.03 541,1334.83 544,1328.62 547,1322.41 550,1316.22 553,1310.05 556,1303.9 559,1297.8 562,1291.75 565,1285.76 568,1279.83 571,1273.97 574,1268.19 577,1262.5 580,1256.91 583,1251.41 586,1246.02 589,1240.74 592,1235.58 595,1230.53 598,1225.6 601,1220.8 604,1216.13 607,1211.58 610,1207.16 613,1202.88 616,1198.73 619,1194.7 622,1190.81 625,1187.05 628,1183.42 631,1179.92 634,1176.54 637,1173.29 640,1170.16 643,1167.15 646,1164.26 649,1161.48 652,1158.82 655,1156.26 658,1153.81 661,1151.46 664,1149.22 667,1147.07 670,1145.01 673,1143.05 676,1141.17 679,1139.38 682,1137.67 685,1136.04 688,1134.49 691,1133 694,1131.59 697,1130.24 700,1128.96 703,1127.74 706,1126.58 709,1125.47 712,1124.42 715,1123.42 718,1122.47 721,1121.57 724,1120.71 727,1119.89 730,1119.12 733,1118.38 736,1117.68 739,1117.02 742,1116.39 745,1115.79 748,1115.22 751,1114.69 754,1114.18 757,1113.69 760,1113.23 763,1112.8 766,1112.38 769,1111.99 772,1111.62 775,1111.27 778,1110.93 781,1110.62 784,1110.32 787,1110.03 790,1109.76 793,1109.51 796,1109.27 799,1109.04 802,1108.82 805,1108.61 808,1108.42 811,1108.23 814,1108.06 817,1107.89 820,1107.74 823,1107.59 826,1107.45 829,1107.31 832,1107.19 835,1107.07 838,1106.95 841,1106.85 844,1106.75 847,1106.65 850,1106.56 853,1106.47 856,1106.39 859,1106.31 862,1106.24 865,1106.17 868,1106.11 871,1106.04 874,1105.99 877,1105.93 880,1105.88 883,1105.83 886,1105.78 889,1105.74 892,1105.69 895,1105.65 898,1105.62 901,1105.58 904,1105.55 907,1105.51 910,1105.48 913,1105.45 916,1105.43 919,1105.4 922,1105.38 925,1105.35 928,1105.33 931,1105.31 934,1105.29 937,1105.27 940,1105.25 943,1105.24 946,1105.22 949,1105.21 952,1105.19 955,1105.18 958,1105.17 961,1105.16 964,1105.14 967,1105.13 970,1105.12 973,1105.11 976,1105.1" fill="none" stroke="#000" stroke-width="3.5"/>
<polyline points="292,1559.59 295,1559.59 298,1559.59 301,1559.59 304,1559.59 307,1559.59 310,1559.59 313,1559.59 316,1559.59 319,1559.59 322,1559.59 325,1559.59 328,1559.58 331,1559.58 334,1559.58 337,1559.58 340,1559.58 343,1559.58 346,1559.58 349,1559.57 352,1559.57 355,1559.57 358,1559.57 361,1559.57 364,1559.56 367,1559.56 370,1559.56 373,1559.55 376,1559.55 379,1559.55 382,1559.54 385,1559.54 388,1559.53 391,1559.53 394,1559.52 397,1559.52 400,1559.51 403,1559.5 406,1559.49 409,1559.49 412,1559.48 415,1559.47 418,1559.46 421,1559.45 424,1559.43 427,1559.42 430,1559.41 433,1559.39 436,1559.38 439,1559.36 442,1559.34 445,1559.32 448,1559.3 451,1559.28 454,1559.25 457,1559.22 460,1559.2 463,1559.16 466,1559.13 469,1559.09 472,1559.05 475,1559.01 478,1558.97 481,1558.92 484,1558.87 487,1558.81 490,1558.75 493,1558.68 496,1558.61 499,1558.53 502,1558.45 505,1558.36 508,1558.27 511,1558.16 514,1558.05 517,1557.94 520,1557.81 523,1557.67 526,1557.52 529,1557.36 532,1557.19 535,1557 538,1556.8 541,1556.59 544,1556.36 547,1556.11 550,1555.85 553,1555.56 556,1555.25 559,1554.92 562,1554.56 565,1554.18 568,1553.77 571,1553.33 574,1552.86 577,1552.35 580,1551.8 583,1551.22 586,1550.59 589,1549.92 592,1549.2 595,1548.43 598,1547.6 601,1546.72 604,1545.77 607,1544.76 610,1543.68 613,1542.53 616,1541.3 619,1539.98 622,1538.59 625,1537.1 628,1535.51 631,1533.83 634,1532.05 637,1530.15 640,1528.14 643,1526.02 646,1523.77 649,1521.4 652,1518.9 655,1516.27 658,1513.5 661,1510.6 664,1507.56 667,1504.38 670,1501.06 673,1497.6 676,1494 679,1490.27 682,1486.4 685,1482.4 688,1478.28 691,1474.04 694,1469.69 697,1465.24 700,1460.7 703,1456.07 706,1451.37 709,1446.61 712,1441.81 715,1436.96 718,1432.1 721,1427.23 724,1422.36 727,1417.51 730,1412.69 733,1407.92 736,1403.2 739,1398.56 742,1393.99 745,1389.52 748,1385.14 751,1380.87 754,1376.72 757,1372.69 760,1368.79 763,1365.02 766,1361.39 769,1357.89 772,1354.54 775,1351.32 778,1348.24 781,1345.31 784,1342.51 787,1339.84 790,1337.31 793,1334.9 796,1332.63 799,1330.47 802,1328.43 805,1326.51 808,1324.7 811,1322.99 814,1321.38 817,1319.87 820,1318.45 823,1317.11 826,1315.86 829,1314.69 832,1313.59 835,1312.56 838,1311.6 841,1310.7 844,1309.86 847,1309.07 850,1308.34 853,1307.66 856,1307.02 859,1306.42 862,1305.87 865,1305.35 868,1304.87 871,1304.42 874,1304 877,1303.61 880,1303.25 883,1302.91 886,1302.6 889,1302.31 892,1302.03 895,1301.78 898,1301.55 901,1301.33 904,1301.13 907,1300.94 910,1300.76 913,1300.6 916,1300.45 919,1300.31 922,1300.18 925,1300.06 928,1299.94 931,1299.84 934,1299.74 937,1299.65 940,1299.57 943,1299.49 946,1299.42 949,1299.35 952,1299.29 955,1299.23 958,1299.18 961,1299.13 964,1299.08 967,1299.04 970,1299 973,1298.96 976,1298.92" fill="none" stroke="#000" stroke-width="3.5"/>
<polyline points="292,1559.6 295,1559.6 298,1559.59 301,1559.59 304,1559.59 307,1559.59 310,1559.59 313,1559.59 316,1559.59 319,1559.59 322,1559.59 325,1559.59 328,1559.59 331,1559.59 334,1559.59 337,1559.59 340,1559.58 343,1559.58 346,1559.58 349,1559.58 352,1559.58 355,1559.58 358,1559.58 361,1559.57 364,1559.57 367,1559.57 370,1559.57 373,1559.56 376,1559.56 379,1559.56 382,1559.55 385,1559.55 388,1559.55 391,1559.54 394,1559.54 397,1559.53 400,1559.53 403,1559.52 406,1559.51 409,1559.51 412,1559.5 415,1559.49 418,1559.48 421,1559.47 424,1559.46 427,1559.45 430,1559.44 433,1559.42 436,1559.41 439,1559.39 442,1559.38 445,1559.36 448,1559.34 451,1559.32 454,1559.29 457,1559.27 460,1559.24 463,1559.21 466,1559.18 469,1559.15 472,1559.11 475,1559.07 478,1559.03 481,1558.98 484,1558.93 487,1558.87 490,1558.81 493,1558.75 496,1558.68 499,1558.61 502,1558.53 505,1558.44 508,1558.34 511,1558.24 514,1558.13 517,1558.01 520,1557.89 523,1557.75 526,1557.6 529,1557.43 532,1557.26 535,1557.07 538,1556.87 541,1556.65 544,1556.41 547,1556.15 550,1555.87 553,1555.57 556,1555.25 559,1554.91 562,1554.53 565,1554.13 568,1553.69 571,1553.22 574,1552.72 577,1552.18 580,1551.59 583,1550.97 586,1550.29 589,1549.57 592,1548.79 595,1547.95 598,1547.06 601,1546.1 604,1545.07 607,1543.98 610,1542.8 613,1541.55 616,1540.21 619,1538.78 622,1537.26 625,1535.64 628,1533.92 631,1532.1 634,1530.17 637,1528.13 640,1525.97 643,1523.69 646,1521.29 649,1518.77 652,1516.13 655,1513.36 658,1510.47 661,1507.46 664,1504.32 667,1501.07 670,1497.7 673,1494.22 676,1490.64 679,1486.97 682,1483.2 685,1479.35 688,1475.44 691,1471.46 694,1467.43 697,1463.37 700,1459.28 703,1455.18 706,1451.07 709,1446.98 712,1442.92 715,1438.89 718,1434.91 721,1431 724,1427.15 727,1423.38 730,1419.7 733,1416.12 736,1412.64 739,1409.27 742,1406.02 745,1402.88 748,1399.87 751,1396.98 754,1394.21 757,1391.56 760,1389.04 763,1386.64 766,1384.36 769,1382.2 772,1380.16 775,1378.22 778,1376.4 781,1374.68 784,1373.06 787,1371.54 790,1370.11 793,1368.77 796,1367.52 799,1366.34 802,1365.24 805,1364.21 808,1363.25 811,1362.36 814,1361.52 817,1360.75 820,1360.02 823,1359.35 826,1358.72 829,1358.13 832,1357.59 835,1357.09 838,1356.62 841,1356.18 844,1355.78 847,1355.4 850,1355.06 853,1354.73 856,1354.43 859,1354.16 862,1353.9 865,1353.66 868,1353.44 871,1353.24 874,1353.05 877,1352.87 880,1352.71 883,1352.56 886,1352.42 889,1352.29 892,1352.17 895,1352.06 898,1351.96 901,1351.87 904,1351.78 907,1351.7 910,1351.62 913,1351.55 916,1351.49 919,1351.43 922,1351.38 925,1351.33 928,1351.28 931,1351.24 934,1351.2 937,1351.16 940,1351.12 943,1351.09 946,1351.06 949,1351.04 952,1351.01 955,1350.99 958,1350.97 961,1350.95 964,1350.93 967,1350.91 970,1350.9 973,1350.88 976,1350.87" fill="none" stroke="#000" stroke-width="3.5"/>
<polyline points="292,1559.58 295,1559.58 298,1559.58 301,1559.58 304,1559.58 307,1559.57 310,1559.57 313,1559.57 316,1559.57 319,1559.56 322,1559.56 325,1559.56 328,1559.56 331,1559.55 334,1559.55 337,1559.55 340,1559.54 343,1559.54 346,1559.53 349,1559.53 352,1559.52 355,1559.52 358,1559.51 361,1559.51 364,1559.5 367,1559.49 370,1559.48 373,1559.47 376,1559.47 379,1559.46 382,1559.44 385,1559.43 388,1559.42 391,1559.41 394,1559.39 397,1559.38 400,1559.36 403,1559.35 406,1559.33 409,1559.31 412,1559.29 415,1559.26 418,1559.24 421,1559.21 424,1559.18 427,1559.15 430,1559.12 433,1559.08 436,1559.05 439,1559.01 442,1558.96 445,1558.92 448,1558.87 451,1558.81 454,1558.75 457,1558.69 460,1558.63 463,1558.56 466,1558.48 469,1558.4 472,1558.31 475,1558.22 478,1558.12 481,1558.01 484,1557.89 487,1557.77 490,1557.64 493,1557.49 496,1557.34 499,1557.18 502,1557 505,1556.81 508,1556.61 511,1556.4 514,1556.17 517,1555.92 520,1555.65 523,1555.37 526,1555.07 529,1554.74 532,1554.39 535,1554.02 538,1553.63 541,1553.2 544,1552.75 547,1552.26 550,1551.75 553,1551.19 556,1550.61 559,1549.98 562,1549.31 565,1548.59 568,1547.83 571,1547.02 574,1546.16 577,1545.24 580,1544.26 583,1543.23 586,1542.13 589,1540.96 592,1539.73 595,1538.42 598,1537.03 601,1535.57 604,1534.02 607,1532.39 610,1530.67 613,1528.87 616,1526.97 619,1524.97 622,1522.88 625,1520.69 628,1518.4 631,1516.01 634,1513.52 637,1510.93 640,1508.24 643,1505.45 646,1502.57 649,1499.59 652,1496.52 655,1493.36 658,1490.12 661,1486.8 664,1483.41 667,1479.96 670,1476.44 673,1472.88 676,1469.27 679,1465.63 682,1461.96 685,1458.28 688,1454.58 691,1450.89 694,1447.21 697,1443.55 700,1439.92 703,1436.32 706,1432.77 709,1429.28 712,1425.84 715,1422.47 718,1419.18 721,1415.97 724,1412.83 727,1409.79 730,1406.84 733,1403.99 736,1401.23 739,1398.57 742,1396.01 745,1393.55 748,1391.19 751,1388.93 754,1386.77 757,1384.71 760,1382.74 763,1380.87 766,1379.09 769,1377.4 772,1375.8 775,1374.28 778,1372.84 781,1371.48 784,1370.19 787,1368.98 790,1367.83 793,1366.75 796,1365.73 799,1364.78 802,1363.88 805,1363.03 808,1362.24 811,1361.49 814,1360.79 817,1360.13 820,1359.51 823,1358.94 826,1358.39 829,1357.89 832,1357.41 835,1356.97 838,1356.55 841,1356.16 844,1355.8 847,1355.46 850,1355.14 853,1354.84 856,1354.57 859,1354.31 862,1354.07 865,1353.84 868,1353.63 871,1353.43 874,1353.25 877,1353.08 880,1352.92 883,1352.77 886,1352.63 889,1352.5 892,1352.38 895,1352.26 898,1352.16 901,1352.06 904,1351.97 907,1351.88 910,1351.8 913,1351.73 916,1351.66 919,1351.59 922,1351.53 925,1351.47 928,1351.42 931,1351.37 934,1351.33 937,1351.29 940,1351.25 943,1351.21 946,1351.17 949,1351.14 952,1351.11 955,1351.08 958,1351.06 961,1351.03 964,1351.01 967,1350.99 970,1350.97 973,1350.95 976,1350.94" fill="none" stroke="#000" stroke-width="3.5"/>
<polyline points="292,1559.6 295,1559.6 298,1559.6 301,1559.6 304,1559.6 307,1559.6 310,1559.6 313,1559.6 316,1559.6 319,1559.59 322,1559.59 325,1559.59 328,1559.59 331,1559.59 334,1559.59 337,1559.59 340,1559.59 343,1559.59 346,1559.59 349,1559.59 352,1559.59 355,1559.59 358,1559.59 361,1559.59 364,1559.59 367,1559.59 370,1559.58 373,1559.58 376,1559.58 379,1559.58 382,1559.58 385,1559.58 388,1559.58 391,1559.58 394,1559.57 397,1559.57 400,1559.57 403,1559.57 406,1559.57 409,1559.56 412,1559.56 415,1559.56 418,1559.56 421,1559.55 424,1559.55 427,1559.55 430,1559.55 433,1559.54 436,1559.54 439,1559.53 442,1559.53 445,1559.53 448,1559.52 451,1559.52 454,1559.51 457,1559.5 460,1559.5 463,1559.49 466,1559.48 469,1559.48 472,1559.47 475,1559.46 478,1559.45 481,1559.44 484,1559.43 487,1559.42 490,1559.41 493,1559.4 496,1559.38 499,1559.37 502,1559.35 505,1559.34 508,1559.32 511,1559.3 514,1559.28 517,1559.26 520,1559.24 523,1559.22 526,1559.19 529,1559.17 532,1559.14 535,1559.11 538,1559.08 541,1559.04 544,1559.01 547,1558.97 550,1558.93 553,1558.89 556,1558.84 559,1558.79 562,1558.74 565,1558.68 568,1558.63 571,1558.56 574,1558.5 577,1558.42 580,1558.35 583,1558.27 586,1558.18 589,1558.09 592,1558 595,1557.89 598,1557.78 601,1557.67 604,1557.54 607,1557.41 610,1557.27 613,1557.13 616,1556.97 619,1556.8 622,1556.62 625,1556.44 628,1556.24 631,1556.02 634,1555.8 637,1555.56 640,1555.3 643,1555.04 646,1554.75 649,1554.45 652,1554.13 655,1553.79 658,1553.43 661,1553.05 664,1552.64 667,1552.22 670,1551.77 673,1551.29 676,1550.79 679,1550.26 682,1549.7 685,1549.1 688,1548.48 691,1547.82 694,1547.13 697,1546.4 700,1545.64 703,1544.83 706,1543.99 709,1543.1 712,1542.17 715,1541.2 718,1540.18 721,1539.12 724,1538 727,1536.84 730,1535.64 733,1534.38 736,1533.07 739,1531.71 742,1530.3 745,1528.84 748,1527.34 751,1525.78 754,1524.17 757,1522.52 760,1520.82 763,1519.07 766,1517.29 769,1515.46 772,1513.59 775,1511.69 778,1509.75 781,1507.79 784,1505.8 787,1503.78 790,1501.74 793,1499.69 796,1497.63 799,1495.56 802,1493.48 805,1491.41 808,1489.34 811,1487.27 814,1485.22 817,1483.19 820,1481.17 823,1479.18 826,1477.22 829,1475.29 832,1473.38 835,1471.52 838,1469.7 841,1467.91 844,1466.17 847,1464.47 850,1462.82 853,1461.22 856,1459.67 859,1458.16 862,1456.71 865,1455.3 868,1453.95 871,1452.64 874,1451.39 877,1450.18 880,1449.02 883,1447.92 886,1446.85 889,1445.84 892,1444.87 895,1443.94 898,1443.06 901,1442.22 904,1441.41 907,1440.65 910,1439.92 913,1439.24 916,1438.58 919,1437.96 922,1437.37 925,1436.81 928,1436.28 931,1435.78 934,1435.31 937,1434.86 940,1434.43 943,1434.03 946,1433.65 949,1433.29 952,1432.96 955,1432.64 958,1432.33 961,1432.05 964,1431.78 967,1431.53 970,1431.29 973,1431.07 976,1430.86" fill="none" stroke="#000" stroke-width="3.5"/>
<circle cx="294" cy="1553.46" r="14.96" fill="#000"/>
<circle cx="381.9" cy="1535.02" r="14.96" fill="#000"/>
<circle cx="423.84" cy="1507.38" r="14.96" fill="#000"/>
<circle cx="469.8" cy="1449.01" r="14.96" fill="#000"/>
<circle cx="511.74" cy="1418.29" r="14.96" fill="#000"/>
<circle cx="557.7" cy="1304.62" r="14.96" fill="#000"/>
<circle cx="599.64" cy="1206.32" r="14.96" fill="#000"/>
<circle cx="645.6" cy="1166.38" r="14.96" fill="#000"/>
<circle cx="687.54" cy="1126.45" r="14.96" fill="#000"/>
<circle cx="733.5" cy="1120.3" r="14.96" fill="#000"/>
<circle cx="775.44" cy="1117.23" r="14.96" fill="#000"/>
<rect x="279.82" y="1530.29" width="28.37" height="27.9" fill="#000"/>
<rect x="367.72" y="1513.39" width="28.37" height="27.9" fill="#000"/>
<rect x="409.66" y="1484.21" width="28.37" height="27.9" fill="#000"/>
<rect x="455.62" y="1447.35" width="28.37" height="27.9" fill="#000"/>
<rect x="497.56" y="1388.98" width="28.37" height="27.9" fill="#000"/>
<rect x="543.52" y="1278.39" width="28.37" height="27.9" fill="#000"/>
<rect x="585.46" y="1183.15" width="28.37" height="27.9" fill="#000"/>
<rect x="631.42" y="1134" width="28.37" height="27.9" fill="#000"/>
<rect x="673.36" y="1103.28" width="28.37" height="27.9" fill="#000"/>
<rect x="719.32" y="1078.71" width="28.37" height="27.9" fill="#000"/>
<rect x="761.26" y="1081.78" width="28.37" height="27.9" fill="#000"/>
<polygon points="469.8,1554.59 490.17,1574.96 469.8,1595.33 449.43,1574.96" fill="#000"/>
<polygon points="511.74,1554.59 532.11,1574.96 511.74,1595.33 491.37,1574.96" fill="#000"/>
<polygon points="557.7,1539.23 578.07,1559.6 557.7,1579.97 537.33,1559.6" fill="#000"/>
<polygon points="599.64,1536.16 620.01,1556.53 599.64,1576.9 579.27,1556.53" fill="#000"/>
<polygon points="645.6,1491.61 665.97,1511.98 645.6,1532.35 625.23,1511.98" fill="#000"/>
<polygon points="687.54,1453.21 707.91,1473.58 687.54,1493.95 667.17,1473.58" fill="#000"/>
<polygon points="733.5,1382.56 753.87,1402.93 733.5,1423.3 713.13,1402.93" fill="#000"/>
<polygon points="775.44,1324.19 795.81,1344.56 775.44,1364.93 755.07,1344.56" fill="#000"/>
<polygon points="821.4,1282.72 841.77,1303.09 821.4,1323.46 801.03,1303.09" fill="#000"/>
<polygon points="863.34,1293.47 883.71,1313.84 863.34,1334.21 842.97,1313.84" fill="#000"/>
<polygon points="882.84,1278.11 903.21,1298.48 882.84,1318.85 862.47,1298.48" fill="#000"/>
<polygon points="469.8,1577.38 451.63,1546.1 487.97,1546.1" fill="#000"/>
<polygon points="511.74,1583.53 493.57,1552.25 529.91,1552.25" fill="#000"/>
<polygon points="557.7,1577.38 539.53,1546.1 575.87,1546.1" fill="#000"/>
<polygon points="599.64,1574.31 581.47,1543.03 617.81,1543.03" fill="#000"/>
<polygon points="645.6,1552.81 627.43,1521.53 663.77,1521.53" fill="#000"/>
<polygon points="687.54,1506.73 669.37,1475.45 705.71,1475.45" fill="#000"/>
<polygon points="733.5,1433 715.33,1401.72 751.67,1401.72" fill="#000"/>
<polygon points="775.44,1393.06 757.27,1361.78 793.61,1361.78" fill="#000"/>
<polygon points="821.4,1371.56 803.23,1340.28 839.57,1340.28" fill="#000"/>
<polygon points="863.34,1374.63 845.17,1343.35 881.51,1343.35" fill="#000"/>
<polygon points="882.84,1380.77 864.67,1349.49 901.01,1349.49" fill="#000"/>
<polygon points="423.84,1527.91 405.41,1557.01 442.27,1557.01" fill="#000"/>
<polygon points="469.8,1537.13 451.37,1566.23 488.23,1566.23" fill="#000"/>
<polygon points="511.74,1530.98 493.31,1560.08 530.17,1560.08" fill="#000"/>
<polygon points="557.7,1527.91 539.27,1557.01 576.13,1557.01" fill="#000"/>
<polygon points="599.64,1503.34 581.21,1532.44 618.07,1532.44" fill="#000"/>
<polygon points="645.6,1457.26 627.17,1486.36 664.03,1486.36" fill="#000"/>
<polygon points="687.54,1417.32 669.11,1446.42 705.97,1446.42" fill="#000"/>
<polygon points="733.5,1380.46 715.07,1409.56 751.93,1409.56" fill="#000"/>
<polygon points="775.44,1358.95 757.01,1388.05 793.87,1388.05" fill="#000"/>
<polygon points="821.4,1358.95 802.97,1388.05 839.83,1388.05" fill="#000"/>
<polygon points="863.34,1325.16 844.91,1354.26 881.77,1354.26" fill="#000"/>
<polygon points="882.84,1331.3 864.41,1360.4 901.27,1360.4" fill="#000"/>
<polygon points="624.07,1553.46 656.37,1535.17 656.37,1571.74" fill="#000"/>
<polygon points="666.01,1546.7 698.31,1528.41 698.31,1564.99" fill="#000"/>
<polygon points="711.97,1533.49 744.27,1515.2 744.27,1551.78" fill="#000"/>
<polygon points="753.91,1511.06 786.21,1492.77 786.21,1529.35" fill="#000"/>
<polygon points="799.87,1478.19 832.17,1459.9 832.17,1496.48" fill="#000"/>
<polygon points="841.81,1456.07 874.11,1437.79 874.11,1474.36" fill="#000"/>
<polygon points="887.77,1436.72 920.07,1418.43 920.07,1455.01" fill="#000"/>
<polygon points="929.71,1434.88 962.01,1416.59 962.01,1453.16" fill="#000"/>
<polygon points="949.21,1433.65 981.51,1415.36 981.51,1451.94" fill="#000"/>
<line x1="267" y1="1063" x2="267" y2="1594" stroke="#000" stroke-width="7.8"/>
<line x1="263.1" y1="1590" x2="980.4" y2="1590" stroke="#000" stroke-width="8"/>
<line x1="246.7" y1="1559.6" x2="267" y2="1559.6" stroke="#000" stroke-width="7.6"/>
<text x="202.52" y="1574.6" font-size="51.5" fill="#000">0</text>
<line x1="246.7" y1="1406" x2="267" y2="1406" stroke="#000" stroke-width="7.6"/>
<text x="173.94" y="1421" font-size="51.5" fill="#000">50</text>
<line x1="246.7" y1="1252.4" x2="267" y2="1252.4" stroke="#000" stroke-width="7.6"/>
<text x="145.36" y="1267.4" font-size="51.5" fill="#000">100</text>
<line x1="246.7" y1="1098.8" x2="267" y2="1098.8" stroke="#000" stroke-width="7.6"/>
<text x="145.36" y="1113.8" font-size="51.5" fill="#000">150</text>
<line x1="256.2" y1="1482.8" x2="267" y2="1482.8" stroke="#000" stroke-width="7.6"/>
<line x1="256.2" y1="1329.2" x2="267" y2="1329.2" stroke="#000" stroke-width="7.6"/>
<line x1="256.2" y1="1175.6" x2="267" y2="1175.6" stroke="#000" stroke-width="7.6"/>
<line x1="294" y1="1590" x2="294" y2="1608.5" stroke="#000" stroke-width="7.7"/>
<line x1="320.46" y1="1590" x2="320.46" y2="1597.5" stroke="#000" stroke-width="7.7"/>
<line x1="335.94" y1="1590" x2="335.94" y2="1597.5" stroke="#000" stroke-width="7.7"/>
<line x1="346.92" y1="1590" x2="346.92" y2="1597.5" stroke="#000" stroke-width="7.7"/>
<line x1="355.44" y1="1590" x2="355.44" y2="1597.5" stroke="#000" stroke-width="7.7"/>
<line x1="362.4" y1="1590" x2="362.4" y2="1597.5" stroke="#000" stroke-width="7.7"/>
<line x1="368.28" y1="1590" x2="368.28" y2="1597.5" stroke="#000" stroke-width="7.7"/>
<line x1="373.38" y1="1590" x2="373.38" y2="1597.5" stroke="#000" stroke-width="7.7"/>
<line x1="377.88" y1="1590" x2="377.88" y2="1597.5" stroke="#000" stroke-width="7.7"/>
<line x1="381.9" y1="1590" x2="381.9" y2="1608.5" stroke="#000" stroke-width="7.7"/>
<line x1="408.36" y1="1590" x2="408.36" y2="1597.5" stroke="#000" stroke-width="7.7"/>
<line x1="423.84" y1="1590" x2="423.84" y2="1597.5" stroke="#000" stroke-width="7.7"/>
<line x1="434.82" y1="1590" x2="434.82" y2="1597.5" stroke="#000" stroke-width="7.7"/>
<line x1="443.34" y1="1590" x2="443.34" y2="1597.5" stroke="#000" stroke-width="7.7"/>
<line x1="450.3" y1="1590" x2="450.3" y2="1597.5" stroke="#000" stroke-width="7.7"/>
<line x1="456.18" y1="1590" x2="456.18" y2="1597.5" stroke="#000" stroke-width="7.7"/>
<line x1="461.28" y1="1590" x2="461.28" y2="1597.5" stroke="#000" stroke-width="7.7"/>
<line x1="465.78" y1="1590" x2="465.78" y2="1597.5" stroke="#000" stroke-width="7.7"/>
<line x1="469.8" y1="1590" x2="469.8" y2="1608.5" stroke="#000" stroke-width="7.7"/>
<line x1="496.26" y1="1590" x2="496.26" y2="1597.5" stroke="#000" stroke-width="7.7"/>
<line x1="511.74" y1="1590" x2="511.74" y2="1597.5" stroke="#000" stroke-width="7.7"/>
<line x1="522.72" y1="1590" x2="522.72" y2="1597.5" stroke="#000" stroke-width="7.7"/>
<line x1="531.24" y1="1590" x2="531.24" y2="1597.5" stroke="#000" stroke-width="7.7"/>
<line x1="538.2" y1="1590" x2="538.2" y2="1597.5" stroke="#000" stroke-width="7.7"/>
<line x1="544.08" y1="1590" x2="544.08" y2="1597.5" stroke="#000" stroke-width="7.7"/>
<line x1="549.18" y1="1590" x2="549.18" y2="1597.5" stroke="#000" stroke-width="7.7"/>
<line x1="553.68" y1="1590" x2="553.68" y2="1597.5" stroke="#000" stroke-width="7.7"/>
<line x1="557.7" y1="1590" x2="557.7" y2="1608.5" stroke="#000" stroke-width="7.7"/>
<line x1="584.16" y1="1590" x2="584.16" y2="1597.5" stroke="#000" stroke-width="7.7"/>
<line x1="599.64" y1="1590" x2="599.64" y2="1597.5" stroke="#000" stroke-width="7.7"/>
<line x1="610.62" y1="1590" x2="610.62" y2="1597.5" stroke="#000" stroke-width="7.7"/>
<line x1="619.14" y1="1590" x2="619.14" y2="1597.5" stroke="#000" stroke-width="7.7"/>
<line x1="626.1" y1="1590" x2="626.1" y2="1597.5" stroke="#000" stroke-width="7.7"/>
<line x1="631.98" y1="1590" x2="631.98" y2="1597.5" stroke="#000" stroke-width="7.7"/>
<line x1="637.08" y1="1590" x2="637.08" y2="1597.5" stroke="#000" stroke-width="7.7"/>
<line x1="641.58" y1="1590" x2="641.58" y2="1597.5" stroke="#000" stroke-width="7.7"/>
<line x1="645.6" y1="1590" x2="645.6" y2="1608.5" stroke="#000" stroke-width="7.7"/>
<line x1="672.06" y1="1590" x2="672.06" y2="1597.5" stroke="#000" stroke-width="7.7"/>
<line x1="687.54" y1="1590" x2="687.54" y2="1597.5" stroke="#000" stroke-width="7.7"/>
<line x1="698.52" y1="1590" x2="698.52" y2="1597.5" stroke="#000" stroke-width="7.7"/>
<line x1="707.04" y1="1590" x2="707.04" y2="1597.5" stroke="#000" stroke-width="7.7"/>
<line x1="714" y1="1590" x2="714" y2="1597.5" stroke="#000" stroke-width="7.7"/>
<line x1="719.88" y1="1590" x2="719.88" y2="1597.5" stroke="#000" stroke-width="7.7"/>
<line x1="724.98" y1="1590" x2="724.98" y2="1597.5" stroke="#000" stroke-width="7.7"/>
<line x1="729.48" y1="1590" x2="729.48" y2="1597.5" stroke="#000" stroke-width="7.7"/>
<line x1="733.5" y1="1590" x2="733.5" y2="1608.5" stroke="#000" stroke-width="7.7"/>
<line x1="759.96" y1="1590" x2="759.96" y2="1597.5" stroke="#000" stroke-width="7.7"/>
<line x1="775.44" y1="1590" x2="775.44" y2="1597.5" stroke="#000" stroke-width="7.7"/>
<line x1="786.42" y1="1590" x2="786.42" y2="1597.5" stroke="#000" stroke-width="7.7"/>
<line x1="794.94" y1="1590" x2="794.94" y2="1597.5" stroke="#000" stroke-width="7.7"/>
<line x1="801.9" y1="1590" x2="801.9" y2="1597.5" stroke="#000" stroke-width="7.7"/>
<line x1="807.78" y1="1590" x2="807.78" y2="1597.5" stroke="#000" stroke-width="7.7"/>
<line x1="812.88" y1="1590" x2="812.88" y2="1597.5" stroke="#000" stroke-width="7.7"/>
<line x1="817.38" y1="1590" x2="817.38" y2="1597.5" stroke="#000" stroke-width="7.7"/>
<line x1="821.4" y1="1590" x2="821.4" y2="1608.5" stroke="#000" stroke-width="7.7"/>
<line x1="847.86" y1="1590" x2="847.86" y2="1597.5" stroke="#000" stroke-width="7.7"/>
<line x1="863.34" y1="1590" x2="863.34" y2="1597.5" stroke="#000" stroke-width="7.7"/>
<line x1="874.32" y1="1590" x2="874.32" y2="1597.5" stroke="#000" stroke-width="7.7"/>
<line x1="882.84" y1="1590" x2="882.84" y2="1597.5" stroke="#000" stroke-width="7.7"/>
<line x1="889.8" y1="1590" x2="889.8" y2="1597.5" stroke="#000" stroke-width="7.7"/>
<line x1="895.68" y1="1590" x2="895.68" y2="1597.5" stroke="#000" stroke-width="7.7"/>
<line x1="900.78" y1="1590" x2="900.78" y2="1597.5" stroke="#000" stroke-width="7.7"/>
<line x1="905.28" y1="1590" x2="905.28" y2="1597.5" stroke="#000" stroke-width="7.7"/>
<line x1="909.3" y1="1590" x2="909.3" y2="1608.5" stroke="#000" stroke-width="7.7"/>
<line x1="935.76" y1="1590" x2="935.76" y2="1597.5" stroke="#000" stroke-width="7.7"/>
<line x1="951.24" y1="1590" x2="951.24" y2="1597.5" stroke="#000" stroke-width="7.7"/>
<line x1="962.22" y1="1590" x2="962.22" y2="1597.5" stroke="#000" stroke-width="7.7"/>
<line x1="970.74" y1="1590" x2="970.74" y2="1597.5" stroke="#000" stroke-width="7.7"/>
<text x="301.7" y="1663" font-size="51" fill="#000">0.0001</text>
<text x="505.83" y="1663" font-size="51" fill="#000">0.01</text>
<text x="717.48" y="1663" font-size="51" fill="#000">1</text>
<text x="868.52" y="1663" font-size="51" fill="#000">100</text>
<text x="758" y="1572.5" font-size="52" fill="#000" textLength="249.76" lengthAdjust="spacingAndGlyphs">Conc (µM)</text>
<text transform="translate(120.3,1432.66) rotate(-90)" font-size="52" fill="#000" textLength="209.81" lengthAdjust="spacingAndGlyphs">ΔF/F (%)</text>
<rect x="1298.25" y="1565.5" width="48.5" height="7.78" fill="#808080" stroke="#000" stroke-width="2.2"/>
<rect x="1357.35" y="1565.5" width="48.5" height="9.33" fill="#808080" stroke="#000" stroke-width="2.2"/>
<rect x="1416.45" y="1565.5" width="48.5" height="9.33" fill="#808080" stroke="#000" stroke-width="2.2"/>
<rect x="1475.55" y="1565.5" width="48.5" height="9.33" fill="#808080" stroke="#000" stroke-width="2.2"/>
<rect x="1534.65" y="1565.5" width="48.5" height="9.33" fill="#808080" stroke="#000" stroke-width="2.2"/>
<rect x="1593.75" y="1563.94" width="48.5" height="1.56" fill="#808080" stroke="#000" stroke-width="2.2"/>
<rect x="1652.85" y="1565.5" width="48.5" height="9.33" fill="#808080" stroke="#000" stroke-width="2.2"/>
<rect x="1711.95" y="1565.5" width="48.5" height="12.44" fill="#808080" stroke="#000" stroke-width="2.2"/>
<rect x="1771.05" y="1565.5" width="48.5" height="7.78" fill="#808080" stroke="#000" stroke-width="2.2"/>
<rect x="1830.15" y="1565.5" width="48.5" height="7.78" fill="#808080" stroke="#000" stroke-width="2.2"/>
<rect x="1889.25" y="1548.39" width="48.5" height="17.11" fill="#808080" stroke="#000" stroke-width="2.2"/>
<rect x="1948.35" y="1231.17" width="48.5" height="334.33" fill="#808080" stroke="#000" stroke-width="2.2"/>
<text transform="translate(1342.8,1537.18) rotate(-90)" font-size="43.7" fill="#000">17 OH Progesterone</text>
<text transform="translate(1401.64,1537.4) rotate(-90)" font-size="43.7" fill="#000">Pregnenolone</text>
<text transform="translate(1460.48,1537.4) rotate(-90)" font-size="43.7" fill="#000">DHT</text>
<text transform="translate(1519.32,1533.9) rotate(-90)" font-size="43.7" fill="#000">Androstendione</text>
<text transform="translate(1578.16,1537.18) rotate(-90)" font-size="43.7" fill="#000">17 OH Pregnenolone</text>
<text transform="translate(1637,1537.18) rotate(-90)" font-size="43.7" fill="#000">11-Desoxycorticosterone</text>
<text transform="translate(1695.84,1533.9) rotate(-90)" font-size="43.7" fill="#000">Androstenediol</text>
<text transform="translate(1754.68,1537.4) rotate(-90)" font-size="43.7" fill="#000">Estrone</text>
<text transform="translate(1813.52,1537.18) rotate(-90)" font-size="43.7" fill="#000">11-Deoxycortisol</text>
<text transform="translate(1872.36,1537.4) rotate(-90)" font-size="43.7" fill="#000">DHEA</text>
<text transform="translate(1931.2,1536.09) rotate(-90)" font-size="43.7" fill="#000">Corticosterone</text>
<text transform="translate(1990.04,1537.83) rotate(-90)" font-size="43.7" fill="#000">Ionomycin</text>
<line x1="1322.5" y1="1570.16" x2="1322.5" y2="1576.38" stroke="#000" stroke-width="4.3"/>
<line x1="1311" y1="1576.38" x2="1334" y2="1576.38" stroke="#000" stroke-width="4"/>
<line x1="1381.6" y1="1568.61" x2="1381.6" y2="1581.05" stroke="#000" stroke-width="4.3"/>
<line x1="1370.1" y1="1581.05" x2="1393.1" y2="1581.05" stroke="#000" stroke-width="4"/>
<line x1="1440.7" y1="1567.83" x2="1440.7" y2="1581.83" stroke="#000" stroke-width="4.3"/>
<line x1="1429.2" y1="1581.83" x2="1452.2" y2="1581.83" stroke="#000" stroke-width="4"/>
<line x1="1499.8" y1="1568.61" x2="1499.8" y2="1581.05" stroke="#000" stroke-width="4.3"/>
<line x1="1488.3" y1="1581.05" x2="1511.3" y2="1581.05" stroke="#000" stroke-width="4"/>
<line x1="1558.9" y1="1568.61" x2="1558.9" y2="1581.05" stroke="#000" stroke-width="4.3"/>
<line x1="1547.4" y1="1581.05" x2="1570.4" y2="1581.05" stroke="#000" stroke-width="4"/>
<line x1="1618" y1="1567.83" x2="1618" y2="1560.06" stroke="#000" stroke-width="4.3"/>
<line x1="1606.5" y1="1560.06" x2="1629.5" y2="1560.06" stroke="#000" stroke-width="4"/>
<line x1="1677.1" y1="1568.61" x2="1677.1" y2="1581.05" stroke="#000" stroke-width="4.3"/>
<line x1="1665.6" y1="1581.05" x2="1688.6" y2="1581.05" stroke="#000" stroke-width="4"/>
<line x1="1736.2" y1="1573.28" x2="1736.2" y2="1582.61" stroke="#000" stroke-width="4.3"/>
<line x1="1724.7" y1="1582.61" x2="1747.7" y2="1582.61" stroke="#000" stroke-width="4"/>
<line x1="1795.3" y1="1568.61" x2="1795.3" y2="1577.94" stroke="#000" stroke-width="4.3"/>
<line x1="1783.8" y1="1577.94" x2="1806.8" y2="1577.94" stroke="#000" stroke-width="4"/>
<line x1="1854.4" y1="1567.83" x2="1854.4" y2="1578.72" stroke="#000" stroke-width="4.3"/>
<line x1="1842.9" y1="1578.72" x2="1865.9" y2="1578.72" stroke="#000" stroke-width="4"/>
<line x1="1913.5" y1="1553.84" x2="1913.5" y2="1542.95" stroke="#000" stroke-width="4.3"/>
<line x1="1902" y1="1542.95" x2="1925" y2="1542.95" stroke="#000" stroke-width="4"/>
<line x1="1972.6" y1="1368.02" x2="1972.6" y2="1094.34" stroke="#000" stroke-width="4.3"/>
<line x1="1961.1" y1="1094.34" x2="1984.1" y2="1094.34" stroke="#000" stroke-width="4"/>
<line x1="1293" y1="1063.9" x2="1293" y2="1592.8" stroke="#000" stroke-width="8.1"/>
<line x1="1273" y1="1565.5" x2="2006.7" y2="1565.5" stroke="#000" stroke-width="7.3"/>
<line x1="1273" y1="1410" x2="1293" y2="1410" stroke="#000" stroke-width="7.3"/>
<line x1="1273" y1="1254.5" x2="1293" y2="1254.5" stroke="#000" stroke-width="7.3"/>
<line x1="1273" y1="1099" x2="1293" y2="1099" stroke="#000" stroke-width="7.3"/>
<line x1="1283" y1="1487.75" x2="1293" y2="1487.75" stroke="#000" stroke-width="7.3"/>
<line x1="1283" y1="1332.25" x2="1293" y2="1332.25" stroke="#000" stroke-width="7.3"/>
<line x1="1283" y1="1176.75" x2="1293" y2="1176.75" stroke="#000" stroke-width="7.3"/>
<text x="1230.48" y="1580.1" font-size="51" fill="#000">0</text>
<text x="1173.87" y="1424.6" font-size="51" fill="#000">100</text>
<text x="1173.87" y="1269.1" font-size="51" fill="#000">200</text>
<text x="1173.87" y="1113.6" font-size="51" fill="#000">300</text>
<rect x="695.8" y="1709.1" width="81.2" height="32.4" fill="#808080" stroke="#000" stroke-width="2"/>
<path d="M635.7,1725.3 H775 M635.7,1715.8 V1734.8 M775,1715.8 V1734.8" stroke="#000" stroke-width="1.6" fill="none"/>
<rect x="1348" y="1713" width="655.4" height="32.4" fill="#808080" stroke="#000" stroke-width="2"/>
<path d="M1972,1729.2 H2037.7 M1972,1719.7 V1738.7 M2037.7,1719.7 V1738.7" stroke="#000" stroke-width="1.6" fill="none"/>
<line x1="224" y1="1712.8" x2="224" y2="1747.5" stroke="#ff0000" stroke-width="5.6"/>
<text x="1361.38" y="1742.2" font-size="35.5" fill="#000">5</text>
<rect x="689.9" y="1749.75" width="87.1" height="32.4" fill="#808080" stroke="#000" stroke-width="2"/>
<path d="M643.7,1765.95 H795 M643.7,1756.45 V1775.45 M795,1756.45 V1775.45" stroke="#000" stroke-width="1.6" fill="none"/>
<rect x="1348" y="1753.79" width="672.3" height="32.4" fill="#808080" stroke="#000" stroke-width="2"/>
<text x="1361.38" y="1782.99" font-size="35.5" fill="#000">5</text>
<rect x="488.7" y="1790.4" width="288.3" height="32.4" fill="#808080" stroke="#000" stroke-width="2"/>
<path d="M465.7,1806.6 H520.7 M465.7,1797.1 V1816.1 M520.7,1797.1 V1816.1" stroke="#000" stroke-width="1.6" fill="none"/>
<rect x="1348" y="1794.58" width="525.3" height="32.4" fill="#808080" stroke="#000" stroke-width="2"/>
<path d="M1830,1810.78 H1918.6 M1830,1801.28 V1820.28 M1918.6,1801.28 V1820.28" stroke="#000" stroke-width="1.6" fill="none"/>
<line x1="284.3" y1="1793.3" x2="284.3" y2="1828" stroke="#ff0000" stroke-width="5.6"/>
<text x="1361.38" y="1823.78" font-size="35.5" fill="#000">50</text>
<rect x="425.3" y="1831.05" width="351.7" height="32.4" fill="#808080" stroke="#000" stroke-width="2"/>
<path d="M390,1847.25 H485.7 M390,1837.75 V1856.75 M485.7,1837.75 V1856.75" stroke="#000" stroke-width="1.6" fill="none"/>
<rect x="1348" y="1835.37" width="612.5" height="32.4" fill="#808080" stroke="#000" stroke-width="2"/>
<path d="M1890.7,1851.57 H2033.6 M1890.7,1842.07 V1861.07 M2033.6,1842.07 V1861.07" stroke="#000" stroke-width="1.6" fill="none"/>
<text x="1361.38" y="1864.57" font-size="35.5" fill="#000">50</text>
<rect x="380" y="1871.7" width="397" height="32.4" fill="#808080" stroke="#000" stroke-width="2"/>
<path d="M348.3,1887.9 H430 M348.3,1878.4 V1897.4 M430,1878.4 V1897.4" stroke="#000" stroke-width="1.6" fill="none"/>
<rect x="1348" y="1876.16" width="453" height="32.4" fill="#808080" stroke="#000" stroke-width="2"/>
<path d="M1752,1892.36 H1852 M1752,1882.86 V1901.86 M1852,1882.86 V1901.86" stroke="#000" stroke-width="1.6" fill="none"/>
<text x="1361.38" y="1905.36" font-size="35.5" fill="#000">50</text>
<rect x="369.3" y="1912.35" width="407.7" height="32.4" fill="#808080" stroke="#000" stroke-width="2"/>
<path d="M337.7,1928.55 H419.3 M337.7,1919.05 V1938.05 M419.3,1919.05 V1938.05" stroke="#000" stroke-width="1.6" fill="none"/>
<rect x="1348" y="1916.95" width="181" height="32.4" fill="#808080" stroke="#000" stroke-width="2"/>
<path d="M1508,1933.15 H1553.5 M1508,1923.65 V1942.65 M1553.5,1923.65 V1942.65" stroke="#000" stroke-width="1.6" fill="none"/>
<line x1="505.3" y1="1914.05" x2="505.3" y2="1948.75" stroke="#ff0000" stroke-width="5.6"/>
<text x="1361.38" y="1946.15" font-size="35.5" fill="#000">50</text>
<rect x="363.7" y="1953" width="413.3" height="32.4" fill="#808080" stroke="#000" stroke-width="2"/>
<path d="M332.7,1969.2 H410 M332.7,1959.7 V1978.7 M410,1959.7 V1978.7" stroke="#000" stroke-width="1.6" fill="none"/>
<rect x="1348" y="1957.74" width="564.7" height="32.4" fill="#808080" stroke="#000" stroke-width="2"/>
<path d="M1831,1973.94 H1997 M1831,1964.44 V1983.44 M1997,1964.44 V1983.44" stroke="#000" stroke-width="1.6" fill="none"/>
<line x1="554" y1="1954.3" x2="554" y2="1989" stroke="#ff0000" stroke-width="5.6"/>
<text x="1361.38" y="1986.94" font-size="35.5" fill="#000">50</text>
<rect x="356.7" y="1993.65" width="420.3" height="32.4" fill="#808080" stroke="#000" stroke-width="2"/>
<path d="M316.7,2009.85 H435.7 M316.7,2000.35 V2019.35 M435.7,2000.35 V2019.35" stroke="#000" stroke-width="1.6" fill="none"/>
<rect x="1348" y="1998.53" width="502" height="32.4" fill="#808080" stroke="#000" stroke-width="2"/>
<path d="M1791.6,2014.73 H1912 M1791.6,2005.23 V2024.23 M1912,2005.23 V2024.23" stroke="#000" stroke-width="1.6" fill="none"/>
<text x="1361.38" y="2027.73" font-size="35.5" fill="#000">50</text>
<rect x="346" y="2034.3" width="431" height="32.4" fill="#808080" stroke="#000" stroke-width="2"/>
<path d="M300.7,2050.5 H445 M300.7,2041 V2060 M445,2041 V2060" stroke="#000" stroke-width="1.6" fill="none"/>
<rect x="1348" y="2039.32" width="259" height="32.4" fill="#808080" stroke="#000" stroke-width="2"/>
<path d="M1546,2055.52 H1668.6 M1546,2046.02 V2065.02 M1668.6,2046.02 V2065.02" stroke="#000" stroke-width="1.6" fill="none"/>
<line x1="655.7" y1="2034.8" x2="655.7" y2="2069.5" stroke="#ff0000" stroke-width="5.6"/>
<text x="1361.38" y="2068.52" font-size="35.5" fill="#000">50</text>
<rect x="326.7" y="2074.95" width="450.3" height="32.4" fill="#808080" stroke="#000" stroke-width="2"/>
<path d="M267.7,2091.15 H608 M267.7,2081.65 V2100.65 M608,2081.65 V2100.65" stroke="#000" stroke-width="1.6" fill="none"/>
<rect x="1348" y="2080.11" width="391.7" height="32.4" fill="#808080" stroke="#000" stroke-width="2"/>
<path d="M1710.6,2096.31 H1771 M1710.6,2086.81 V2105.81 M1771,2086.81 V2105.81" stroke="#000" stroke-width="1.6" fill="none"/>
<line x1="540" y1="2075.05" x2="540" y2="2109.75" stroke="#ff0000" stroke-width="5.6"/>
<text x="1361.38" y="2109.31" font-size="35.5" fill="#000">50</text>
<rect x="286.7" y="2115.6" width="490.3" height="32.4" fill="#808080" stroke="#000" stroke-width="2"/>
<path d="M265.7,2131.8 H314.3 M265.7,2122.3 V2141.3 M314.3,2122.3 V2141.3" stroke="#000" stroke-width="1.6" fill="none"/>
<rect x="1348" y="2120.9" width="351.9" height="32.4" fill="#808080" stroke="#000" stroke-width="2"/>
<path d="M1628.8,2137.1 H1774.8 M1628.8,2127.6 V2146.6 M1774.8,2127.6 V2146.6" stroke="#000" stroke-width="1.6" fill="none"/>
<line x1="300.7" y1="2115.3" x2="300.7" y2="2150" stroke="#ff0000" stroke-width="5.6"/>
<text x="1361.38" y="2150.1" font-size="35.5" fill="#000">50</text>
<rect x="248.7" y="2156.25" width="528.3" height="32.4" fill="#808080" stroke="#000" stroke-width="2"/>
<path d="M217,2172.45 H298.3 M217,2162.95 V2181.95 M298.3,2162.95 V2181.95" stroke="#000" stroke-width="1.6" fill="none"/>
<rect x="1348" y="2161.69" width="459" height="32.4" fill="#808080" stroke="#000" stroke-width="2"/>
<path d="M1731.9,2177.89 H1884 M1731.9,2168.39 V2187.39 M1884,2168.39 V2187.39" stroke="#000" stroke-width="1.6" fill="none"/>
<text x="1361.38" y="2190.89" font-size="35.5" fill="#000">50</text>
<rect x="260" y="2196.9" width="517" height="32.4" fill="#808080" stroke="#000" stroke-width="2"/>
<path d="M234.3,2213.1 H296.7 M234.3,2203.6 V2222.6 M296.7,2203.6 V2222.6" stroke="#000" stroke-width="1.6" fill="none"/>
<rect x="1348" y="2202.48" width="459" height="32.4" fill="#808080" stroke="#000" stroke-width="2"/>
<path d="M1769.5,2218.68 H1847 M1769.5,2209.18 V2228.18 M1847,2209.18 V2228.18" stroke="#000" stroke-width="1.6" fill="none"/>
<line x1="384" y1="2195.8" x2="384" y2="2230.5" stroke="#ff0000" stroke-width="5.6"/>
<text x="1361.38" y="2231.68" font-size="35.5" fill="#000">50</text>
<rect x="199.3" y="2237.55" width="577.7" height="32.4" fill="#808080" stroke="#000" stroke-width="2"/>
<path d="M163.3,2253.75 H263.3 M163.3,2244.25 V2263.25 M263.3,2244.25 V2263.25" stroke="#000" stroke-width="1.6" fill="none"/>
<rect x="1348" y="2243.27" width="355" height="32.4" fill="#808080" stroke="#000" stroke-width="2"/>
<path d="M1636.3,2259.47 H1774.8 M1636.3,2249.97 V2268.97 M1774.8,2249.97 V2268.97" stroke="#000" stroke-width="1.6" fill="none"/>
<line x1="758" y1="2236.05" x2="758" y2="2270.75" stroke="#ff0000" stroke-width="5.6"/>
<text x="1361.38" y="2272.47" font-size="35.5" fill="#000">500</text>
<rect x="89.4" y="2278.2" width="687.6" height="32.4" fill="#808080" stroke="#000" stroke-width="2"/>
<path d="M75.5,2294.4 H106.6 M75.5,2284.9 V2303.9 M106.6,2284.9 V2303.9" stroke="#000" stroke-width="1.6" fill="none"/>
<rect x="1348" y="2284.06" width="289.5" height="32.4" fill="#808080" stroke="#000" stroke-width="2"/>
<path d="M1600,2300.26 H1678 M1600,2290.76 V2309.76 M1678,2290.76 V2309.76" stroke="#000" stroke-width="1.6" fill="none"/>
<line x1="545" y1="2276.3" x2="545" y2="2311" stroke="#ff0000" stroke-width="5.6"/>
<text x="1361.38" y="2313.26" font-size="35.5" fill="#000">500</text>
<text x="797.54" y="1740" font-size="48.8" fill="#000">17-OH-Progesterone</text>
<text x="797.3" y="1780.65" font-size="48.8" fill="#000">Progesterone</text>
<text x="797.3" y="1821.3" font-size="48.8" fill="#000">Pregnenolone</text>
<text x="797.3" y="1861.95" font-size="48.8" fill="#000">DHT</text>
<text x="801.2" y="1902.6" font-size="48.8" fill="#000">Androstenedione</text>
<text x="797.54" y="1943.25" font-size="48.8" fill="#000">17-OH-Pregnenolone</text>
<text x="797.54" y="1983.9" font-size="48.8" fill="#000">11-Desoxycorticosterone</text>
<text x="800.22" y="2024.55" font-size="48.8" fill="#000">Testosterone</text>
<text x="801.2" y="2065.2" font-size="48.8" fill="#000">Androstenediol</text>
<text x="797.3" y="2105.85" font-size="48.8" fill="#000">Estrone</text>
<text x="797.3" y="2146.5" font-size="48.8" fill="#000">Estradiol</text>
<text x="797.54" y="2187.15" font-size="48.8" fill="#000">11-Deoxycortisol</text>
<text x="797.3" y="2227.8" font-size="48.8" fill="#000">DHEA</text>
<text x="798.76" y="2268.45" font-size="48.8" fill="#000">Corticosterone</text>
<text x="798.76" y="2309.1" font-size="48.8" fill="#000">Cortisol</text>
<line x1="779" y1="1702" x2="779" y2="2320.5" stroke="#000" stroke-width="7.3"/>
<line x1="65.2" y1="2317" x2="782.6" y2="2317" stroke="#000" stroke-width="7"/>
<line x1="717.8" y1="2317" x2="717.8" y2="2335.2" stroke="#000" stroke-width="7.7"/>
<line x1="518.5" y1="2317" x2="518.5" y2="2335.2" stroke="#000" stroke-width="7.7"/>
<line x1="319.2" y1="2317" x2="319.2" y2="2335.2" stroke="#000" stroke-width="7.7"/>
<line x1="119.9" y1="2317" x2="119.9" y2="2335.2" stroke="#000" stroke-width="7.7"/>
<line x1="777.8" y1="2317" x2="777.8" y2="2325.2" stroke="#000" stroke-width="7"/>
<line x1="762.01" y1="2317" x2="762.01" y2="2325.2" stroke="#000" stroke-width="7"/>
<line x1="748.67" y1="2317" x2="748.67" y2="2325.2" stroke="#000" stroke-width="7"/>
<line x1="737.11" y1="2317" x2="737.11" y2="2325.2" stroke="#000" stroke-width="7"/>
<line x1="726.92" y1="2317" x2="726.92" y2="2325.2" stroke="#000" stroke-width="7"/>
<line x1="657.8" y1="2317" x2="657.8" y2="2325.2" stroke="#000" stroke-width="7"/>
<line x1="622.71" y1="2317" x2="622.71" y2="2325.2" stroke="#000" stroke-width="7"/>
<line x1="597.81" y1="2317" x2="597.81" y2="2325.2" stroke="#000" stroke-width="7"/>
<line x1="578.5" y1="2317" x2="578.5" y2="2325.2" stroke="#000" stroke-width="7"/>
<line x1="562.71" y1="2317" x2="562.71" y2="2325.2" stroke="#000" stroke-width="7"/>
<line x1="549.37" y1="2317" x2="549.37" y2="2325.2" stroke="#000" stroke-width="7"/>
<line x1="537.81" y1="2317" x2="537.81" y2="2325.2" stroke="#000" stroke-width="7"/>
<line x1="527.62" y1="2317" x2="527.62" y2="2325.2" stroke="#000" stroke-width="7"/>
<line x1="458.5" y1="2317" x2="458.5" y2="2325.2" stroke="#000" stroke-width="7"/>
<line x1="423.41" y1="2317" x2="423.41" y2="2325.2" stroke="#000" stroke-width="7"/>
<line x1="398.51" y1="2317" x2="398.51" y2="2325.2" stroke="#000" stroke-width="7"/>
<line x1="379.2" y1="2317" x2="379.2" y2="2325.2" stroke="#000" stroke-width="7"/>
<line x1="363.41" y1="2317" x2="363.41" y2="2325.2" stroke="#000" stroke-width="7"/>
<line x1="350.07" y1="2317" x2="350.07" y2="2325.2" stroke="#000" stroke-width="7"/>
<line x1="338.51" y1="2317" x2="338.51" y2="2325.2" stroke="#000" stroke-width="7"/>
<line x1="328.32" y1="2317" x2="328.32" y2="2325.2" stroke="#000" stroke-width="7"/>
<line x1="259.2" y1="2317" x2="259.2" y2="2325.2" stroke="#000" stroke-width="7"/>
<line x1="224.11" y1="2317" x2="224.11" y2="2325.2" stroke="#000" stroke-width="7"/>
<line x1="199.21" y1="2317" x2="199.21" y2="2325.2" stroke="#000" stroke-width="7"/>
<line x1="179.9" y1="2317" x2="179.9" y2="2325.2" stroke="#000" stroke-width="7"/>
<line x1="164.11" y1="2317" x2="164.11" y2="2325.2" stroke="#000" stroke-width="7"/>
<line x1="150.77" y1="2317" x2="150.77" y2="2325.2" stroke="#000" stroke-width="7"/>
<line x1="139.21" y1="2317" x2="139.21" y2="2325.2" stroke="#000" stroke-width="7"/>
<line x1="129.02" y1="2317" x2="129.02" y2="2325.2" stroke="#000" stroke-width="7"/>
<text x="91.51" y="2390.3" font-size="50.5" fill="#000">10</text>
<text x="303.43" y="2390.3" font-size="50.5" fill="#000">1</text>
<text x="482.53" y="2390.3" font-size="50.5" fill="#000">0.1</text>
<text x="667.81" y="2390.3" font-size="50.5" fill="#000">0.01</text>
<text x="306.12" y="2475.1" font-size="51" fill="#000" textLength="72.78" lengthAdjust="spacingAndGlyphs">EC</text>
<text x="378.6" y="2489.6" font-size="35" fill="#000">50</text>
<text x="433.54" y="2475.1" font-size="51" fill="#000" textLength="108.79" lengthAdjust="spacingAndGlyphs">(µM)</text>
<line x1="1345.4" y1="1705.5" x2="1345.4" y2="2323" stroke="#000" stroke-width="7.5"/>
<line x1="1341.6" y1="2319.2" x2="2058.8" y2="2319.2" stroke="#000" stroke-width="7.6"/>
<line x1="1345.4" y1="2319.2" x2="1345.4" y2="2339" stroke="#000" stroke-width="7.6"/>
<line x1="1372.42" y1="2319.2" x2="1372.42" y2="2330" stroke="#000" stroke-width="7.6"/>
<line x1="1399.44" y1="2319.2" x2="1399.44" y2="2330" stroke="#000" stroke-width="7.6"/>
<line x1="1426.46" y1="2319.2" x2="1426.46" y2="2330" stroke="#000" stroke-width="7.6"/>
<line x1="1453.48" y1="2319.2" x2="1453.48" y2="2330" stroke="#000" stroke-width="7.6"/>
<line x1="1480.5" y1="2319.2" x2="1480.5" y2="2339" stroke="#000" stroke-width="7.6"/>
<line x1="1507.52" y1="2319.2" x2="1507.52" y2="2330" stroke="#000" stroke-width="7.6"/>
<line x1="1534.54" y1="2319.2" x2="1534.54" y2="2330" stroke="#000" stroke-width="7.6"/>
<line x1="1561.56" y1="2319.2" x2="1561.56" y2="2330" stroke="#000" stroke-width="7.6"/>
<line x1="1588.58" y1="2319.2" x2="1588.58" y2="2330" stroke="#000" stroke-width="7.6"/>
<line x1="1615.6" y1="2319.2" x2="1615.6" y2="2339" stroke="#000" stroke-width="7.6"/>
<line x1="1642.62" y1="2319.2" x2="1642.62" y2="2330" stroke="#000" stroke-width="7.6"/>
<line x1="1669.64" y1="2319.2" x2="1669.64" y2="2330" stroke="#000" stroke-width="7.6"/>
<line x1="1696.66" y1="2319.2" x2="1696.66" y2="2330" stroke="#000" stroke-width="7.6"/>
<line x1="1723.68" y1="2319.2" x2="1723.68" y2="2330" stroke="#000" stroke-width="7.6"/>
<line x1="1750.7" y1="2319.2" x2="1750.7" y2="2339" stroke="#000" stroke-width="7.6"/>
<line x1="1777.72" y1="2319.2" x2="1777.72" y2="2330" stroke="#000" stroke-width="7.6"/>
<line x1="1804.74" y1="2319.2" x2="1804.74" y2="2330" stroke="#000" stroke-width="7.6"/>
<line x1="1831.76" y1="2319.2" x2="1831.76" y2="2330" stroke="#000" stroke-width="7.6"/>
<line x1="1858.78" y1="2319.2" x2="1858.78" y2="2330" stroke="#000" stroke-width="7.6"/>
<line x1="1885.8" y1="2319.2" x2="1885.8" y2="2339" stroke="#000" stroke-width="7.6"/>
<line x1="1912.82" y1="2319.2" x2="1912.82" y2="2330" stroke="#000" stroke-width="7.6"/>
<line x1="1939.84" y1="2319.2" x2="1939.84" y2="2330" stroke="#000" stroke-width="7.6"/>
<line x1="1966.86" y1="2319.2" x2="1966.86" y2="2330" stroke="#000" stroke-width="7.6"/>
<line x1="1993.88" y1="2319.2" x2="1993.88" y2="2330" stroke="#000" stroke-width="7.6"/>
<line x1="2020.9" y1="2319.2" x2="2020.9" y2="2339" stroke="#000" stroke-width="7.6"/>
<line x1="2047.92" y1="2319.2" x2="2047.92" y2="2330" stroke="#000" stroke-width="7.6"/>
<text x="1309.83" y="2393.6" font-size="51" fill="#000">0.0</text>
<text x="1445.31" y="2393.6" font-size="51" fill="#000">0.2</text>
<text x="1579.9" y="2393.6" font-size="51" fill="#000">0.4</text>
<text x="1715.26" y="2393.6" font-size="51" fill="#000">0.6</text>
<text x="1850.36" y="2393.6" font-size="51" fill="#000">0.8</text>
<text x="1984.44" y="2393.6" font-size="51" fill="#000">1.0</text>
<text x="1505.14" y="2479.9" font-size="52" fill="#000" textLength="388.39" lengthAdjust="spacingAndGlyphs">Relative Efficacy</text>
</svg></body></html>
